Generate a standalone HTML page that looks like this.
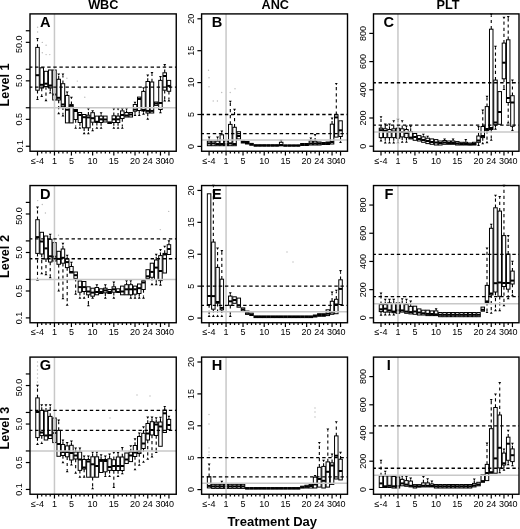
<!DOCTYPE html>
<html><head><meta charset="utf-8"><style>
html,body{margin:0;padding:0;background:#fff;}
body{width:520px;height:529px;overflow:hidden;}
svg{display:block;font-family:"Liberation Sans",sans-serif;will-change:transform;}
</style></head><body>
<svg width="520" height="529" viewBox="0 0 520 529">
<rect width="520" height="529" fill="#fff"/>
<circle cx="37.6" cy="27.2" r="0.7" fill="#bbb"/>
<circle cx="37.6" cy="32" r="0.7" fill="#bbb"/>
<circle cx="42.3" cy="42.4" r="0.7" fill="#bbb"/>
<circle cx="46.1" cy="45.2" r="0.7" fill="#bbb"/>
<circle cx="42.3" cy="52.8" r="0.7" fill="#bbb"/>
<circle cx="46.1" cy="54.6" r="0.7" fill="#bbb"/>
<circle cx="49.8" cy="54.6" r="0.7" fill="#bbb"/>
<circle cx="66.9" cy="78.3" r="0.7" fill="#bbb"/>
<circle cx="77.3" cy="81.1" r="0.7" fill="#bbb"/>
<circle cx="80.1" cy="88.7" r="0.7" fill="#bbb"/>
<circle cx="84.8" cy="97.2" r="0.7" fill="#bbb"/>
<circle cx="88.6" cy="108.5" r="0.7" fill="#bbb"/>
<circle cx="208.5" cy="70.3" r="0.7" fill="#bbb"/>
<circle cx="209" cy="77.7" r="0.7" fill="#bbb"/>
<circle cx="209" cy="86.8" r="0.7" fill="#bbb"/>
<circle cx="213.2" cy="101" r="0.7" fill="#bbb"/>
<circle cx="217.4" cy="101" r="0.7" fill="#bbb"/>
<circle cx="221.7" cy="92.5" r="0.7" fill="#bbb"/>
<circle cx="230.2" cy="92.5" r="0.7" fill="#bbb"/>
<circle cx="235" cy="88.7" r="0.7" fill="#bbb"/>
<circle cx="209" cy="414.5" r="0.7" fill="#bbb"/>
<circle cx="209" cy="424" r="0.7" fill="#bbb"/>
<circle cx="209" cy="448" r="0.7" fill="#bbb"/>
<circle cx="209" cy="452" r="0.7" fill="#bbb"/>
<circle cx="209" cy="455" r="0.7" fill="#bbb"/>
<circle cx="37.7" cy="200.6" r="0.7" fill="#bbb"/>
<circle cx="42.3" cy="204.5" r="0.7" fill="#bbb"/>
<circle cx="45.4" cy="213" r="0.7" fill="#bbb"/>
<circle cx="58.5" cy="235.2" r="0.7" fill="#bbb"/>
<circle cx="168.7" cy="211.4" r="0.7" fill="#bbb"/>
<circle cx="160.3" cy="229.6" r="0.7" fill="#bbb"/>
<circle cx="287" cy="252" r="0.7" fill="#bbb"/>
<circle cx="293" cy="262" r="0.7" fill="#bbb"/>
<circle cx="137" cy="395" r="0.7" fill="#bbb"/>
<circle cx="150" cy="396" r="0.7" fill="#bbb"/>
<circle cx="110" cy="418" r="0.7" fill="#bbb"/>
<circle cx="315" cy="408" r="0.7" fill="#bbb"/>
<circle cx="315" cy="412" r="0.7" fill="#bbb"/>
<circle cx="315" cy="417" r="0.7" fill="#bbb"/>
<circle cx="37.5" cy="362" r="0.7" fill="#bbb"/>
<circle cx="37.5" cy="366" r="0.7" fill="#bbb"/>
<circle cx="37.5" cy="370" r="0.7" fill="#bbb"/>
<circle cx="37.5" cy="374" r="0.7" fill="#bbb"/>
<circle cx="37.5" cy="378" r="0.7" fill="#bbb"/>
<circle cx="37.5" cy="382" r="0.7" fill="#bbb"/>
<text x="103.30" y="9.00" font-size="12.7" font-weight="bold" text-anchor="middle" fill="#000" >WBC</text>
<text x="275.30" y="9.00" font-size="12.7" font-weight="bold" text-anchor="middle" fill="#000" >ANC</text>
<text x="448.00" y="9.00" font-size="12.7" font-weight="bold" text-anchor="middle" fill="#000" >PLT</text>
<line x1="37.50" y1="47.40" x2="37.50" y2="40.10" stroke="#000" stroke-width="1.1" stroke-dasharray="3.2 2.9"/>
<path d="M36.10 37.90h2.8l-1.4 2.4z" fill="#000"/>
<line x1="37.50" y1="90.20" x2="37.50" y2="97.90" stroke="#000" stroke-width="1.1" stroke-dasharray="3.2 2.9"/>
<path d="M36.10 100.10h2.8l-1.4 -2.4z" fill="#000"/>
<rect x="35.75" y="47.40" width="3.50" height="42.80" fill="#fff" stroke="#000" stroke-width="1"/>
<line x1="35.75" y1="75.20" x2="39.25" y2="75.20" stroke="#000" stroke-width="2.0" />
<line x1="41.74" y1="88.00" x2="41.74" y2="94.70" stroke="#000" stroke-width="1.1" stroke-dasharray="3.2 2.9"/>
<path d="M40.34 96.90h2.8l-1.4 -2.4z" fill="#000"/>
<rect x="39.99" y="67.80" width="3.50" height="20.20" fill="#fff" stroke="#000" stroke-width="1"/>
<line x1="39.99" y1="84.80" x2="43.49" y2="84.80" stroke="#000" stroke-width="2.0" />
<line x1="45.98" y1="86.50" x2="45.98" y2="99.00" stroke="#000" stroke-width="1.1" stroke-dasharray="3.2 2.9"/>
<path d="M44.58 101.20h2.8l-1.4 -2.4z" fill="#000"/>
<rect x="44.23" y="71.30" width="3.50" height="15.20" fill="#fff" stroke="#000" stroke-width="1"/>
<line x1="44.23" y1="83.70" x2="47.73" y2="83.70" stroke="#000" stroke-width="2.0" />
<line x1="50.22" y1="88.00" x2="50.22" y2="91.40" stroke="#000" stroke-width="1.1" stroke-dasharray="3.2 2.9"/>
<path d="M48.82 93.60h2.8l-1.4 -2.4z" fill="#000"/>
<rect x="48.47" y="70.00" width="3.50" height="18.00" fill="#fff" stroke="#000" stroke-width="1"/>
<line x1="48.47" y1="85.50" x2="51.97" y2="85.50" stroke="#000" stroke-width="2.0" />
<rect x="52.71" y="70.00" width="3.50" height="30.00" fill="#fff" stroke="#000" stroke-width="1"/>
<line x1="52.71" y1="94.50" x2="56.21" y2="94.50" stroke="#000" stroke-width="2.0" />
<line x1="58.70" y1="79.30" x2="58.70" y2="75.60" stroke="#000" stroke-width="1.1" stroke-dasharray="3.2 2.9"/>
<path d="M57.30 73.40h2.8l-1.4 2.4z" fill="#000"/>
<line x1="58.70" y1="100.00" x2="58.70" y2="112.00" stroke="#000" stroke-width="1.1" stroke-dasharray="3.2 2.9"/>
<path d="M57.30 114.20h2.8l-1.4 -2.4z" fill="#000"/>
<rect x="56.95" y="79.30" width="3.50" height="20.70" fill="#fff" stroke="#000" stroke-width="1"/>
<line x1="56.95" y1="97.80" x2="60.45" y2="97.80" stroke="#000" stroke-width="2.0" />
<line x1="62.94" y1="83.70" x2="62.94" y2="75.60" stroke="#000" stroke-width="1.1" stroke-dasharray="3.2 2.9"/>
<path d="M61.54 73.40h2.8l-1.4 2.4z" fill="#000"/>
<line x1="62.94" y1="106.70" x2="62.94" y2="114.20" stroke="#000" stroke-width="1.1" stroke-dasharray="3.2 2.9"/>
<path d="M61.54 116.40h2.8l-1.4 -2.4z" fill="#000"/>
<rect x="61.19" y="83.70" width="3.50" height="23.00" fill="#fff" stroke="#000" stroke-width="1"/>
<line x1="61.19" y1="104.50" x2="64.69" y2="104.50" stroke="#000" stroke-width="2.0" />
<line x1="67.18" y1="95.50" x2="67.18" y2="93.60" stroke="#000" stroke-width="1.1" stroke-dasharray="3.2 2.9"/>
<path d="M65.78 91.40h2.8l-1.4 2.4z" fill="#000"/>
<rect x="65.43" y="95.50" width="3.50" height="27.40" fill="#fff" stroke="#000" stroke-width="1"/>
<line x1="65.43" y1="109.70" x2="68.93" y2="109.70" stroke="#000" stroke-width="2.0" />
<line x1="71.42" y1="104.60" x2="71.42" y2="99.00" stroke="#000" stroke-width="1.1" stroke-dasharray="3.2 2.9"/>
<path d="M70.02 96.80h2.8l-1.4 2.4z" fill="#000"/>
<rect x="69.67" y="104.60" width="3.50" height="18.30" fill="#fff" stroke="#000" stroke-width="1"/>
<line x1="69.67" y1="105.80" x2="73.17" y2="105.80" stroke="#000" stroke-width="2.0" />
<line x1="75.66" y1="119.50" x2="75.66" y2="126.60" stroke="#000" stroke-width="1.1" stroke-dasharray="3.2 2.9"/>
<path d="M74.26 128.80h2.8l-1.4 -2.4z" fill="#000"/>
<rect x="73.91" y="109.50" width="3.50" height="10.00" fill="#fff" stroke="#000" stroke-width="1"/>
<line x1="73.91" y1="111.00" x2="77.41" y2="111.00" stroke="#000" stroke-width="2.0" />
<line x1="79.90" y1="122.50" x2="79.90" y2="126.60" stroke="#000" stroke-width="1.1" stroke-dasharray="3.2 2.9"/>
<path d="M78.50 128.80h2.8l-1.4 -2.4z" fill="#000"/>
<rect x="78.15" y="112.50" width="3.50" height="10.00" fill="#fff" stroke="#000" stroke-width="1"/>
<line x1="78.15" y1="115.00" x2="81.65" y2="115.00" stroke="#000" stroke-width="2.0" />
<line x1="84.14" y1="127.80" x2="84.14" y2="132.00" stroke="#000" stroke-width="1.1" stroke-dasharray="3.2 2.9"/>
<path d="M82.74 134.20h2.8l-1.4 -2.4z" fill="#000"/>
<rect x="82.39" y="114.50" width="3.50" height="13.30" fill="#fff" stroke="#000" stroke-width="1"/>
<line x1="82.39" y1="117.20" x2="85.89" y2="117.20" stroke="#000" stroke-width="2.0" />
<line x1="88.38" y1="115.20" x2="88.38" y2="110.40" stroke="#000" stroke-width="1.1" stroke-dasharray="3.2 2.9"/>
<path d="M86.98 108.20h2.8l-1.4 2.4z" fill="#000"/>
<line x1="88.38" y1="127.80" x2="88.38" y2="132.00" stroke="#000" stroke-width="1.1" stroke-dasharray="3.2 2.9"/>
<path d="M86.98 134.20h2.8l-1.4 -2.4z" fill="#000"/>
<rect x="86.63" y="115.20" width="3.50" height="12.60" fill="#fff" stroke="#000" stroke-width="1"/>
<line x1="86.63" y1="117.40" x2="90.13" y2="117.40" stroke="#000" stroke-width="2.0" />
<line x1="92.62" y1="112.70" x2="92.62" y2="112.40" stroke="#000" stroke-width="1.1" stroke-dasharray="3.2 2.9"/>
<path d="M91.22 110.20h2.8l-1.4 2.4z" fill="#000"/>
<line x1="92.62" y1="122.20" x2="92.62" y2="129.00" stroke="#000" stroke-width="1.1" stroke-dasharray="3.2 2.9"/>
<path d="M91.22 131.20h2.8l-1.4 -2.4z" fill="#000"/>
<rect x="90.87" y="112.70" width="3.50" height="9.50" fill="#fff" stroke="#000" stroke-width="1"/>
<line x1="90.87" y1="118.20" x2="94.37" y2="118.20" stroke="#000" stroke-width="2.0" />
<line x1="96.86" y1="122.30" x2="96.86" y2="126.60" stroke="#000" stroke-width="1.1" stroke-dasharray="3.2 2.9"/>
<path d="M95.46 128.80h2.8l-1.4 -2.4z" fill="#000"/>
<rect x="95.11" y="116.10" width="3.50" height="6.20" fill="#fff" stroke="#000" stroke-width="1"/>
<line x1="95.11" y1="121.80" x2="98.61" y2="121.80" stroke="#000" stroke-width="2.0" />
<line x1="101.10" y1="116.10" x2="101.10" y2="114.40" stroke="#000" stroke-width="1.1" stroke-dasharray="3.2 2.9"/>
<path d="M99.70 112.20h2.8l-1.4 2.4z" fill="#000"/>
<line x1="101.10" y1="122.50" x2="101.10" y2="126.60" stroke="#000" stroke-width="1.1" stroke-dasharray="3.2 2.9"/>
<path d="M99.70 128.80h2.8l-1.4 -2.4z" fill="#000"/>
<rect x="99.35" y="116.10" width="3.50" height="6.40" fill="#fff" stroke="#000" stroke-width="1"/>
<line x1="99.35" y1="119.30" x2="102.85" y2="119.30" stroke="#000" stroke-width="2.0" />
<rect x="103.59" y="116.10" width="3.50" height="5.90" fill="#fff" stroke="#000" stroke-width="1"/>
<line x1="103.59" y1="119.50" x2="107.09" y2="119.50" stroke="#000" stroke-width="2.0" />
<rect x="107.83" y="122.00" width="3.50" height="1.50" fill="#fff" stroke="#000" stroke-width="1"/>
<line x1="107.83" y1="122.80" x2="111.33" y2="122.80" stroke="#000" stroke-width="2.0" />
<line x1="113.82" y1="115.80" x2="113.82" y2="110.40" stroke="#000" stroke-width="1.1" stroke-dasharray="3.2 2.9"/>
<path d="M112.42 108.20h2.8l-1.4 2.4z" fill="#000"/>
<line x1="113.82" y1="122.50" x2="113.82" y2="126.60" stroke="#000" stroke-width="1.1" stroke-dasharray="3.2 2.9"/>
<path d="M112.42 128.80h2.8l-1.4 -2.4z" fill="#000"/>
<rect x="112.07" y="115.80" width="3.50" height="6.70" fill="#fff" stroke="#000" stroke-width="1"/>
<line x1="112.07" y1="119.30" x2="115.57" y2="119.30" stroke="#000" stroke-width="2.0" />
<line x1="118.06" y1="116.10" x2="118.06" y2="110.40" stroke="#000" stroke-width="1.1" stroke-dasharray="3.2 2.9"/>
<path d="M116.66 108.20h2.8l-1.4 2.4z" fill="#000"/>
<line x1="118.06" y1="122.50" x2="118.06" y2="126.60" stroke="#000" stroke-width="1.1" stroke-dasharray="3.2 2.9"/>
<path d="M116.66 128.80h2.8l-1.4 -2.4z" fill="#000"/>
<rect x="116.31" y="116.10" width="3.50" height="6.40" fill="#fff" stroke="#000" stroke-width="1"/>
<line x1="116.31" y1="119.30" x2="119.81" y2="119.30" stroke="#000" stroke-width="2.0" />
<line x1="122.30" y1="110.90" x2="122.30" y2="110.40" stroke="#000" stroke-width="1.1" stroke-dasharray="3.2 2.9"/>
<path d="M120.90 108.20h2.8l-1.4 2.4z" fill="#000"/>
<line x1="122.30" y1="118.50" x2="122.30" y2="126.60" stroke="#000" stroke-width="1.1" stroke-dasharray="3.2 2.9"/>
<path d="M120.90 128.80h2.8l-1.4 -2.4z" fill="#000"/>
<rect x="120.55" y="110.90" width="3.50" height="7.60" fill="#fff" stroke="#000" stroke-width="1"/>
<line x1="120.55" y1="115.00" x2="124.05" y2="115.00" stroke="#000" stroke-width="2.0" />
<line x1="126.54" y1="112.50" x2="126.54" y2="110.40" stroke="#000" stroke-width="1.1" stroke-dasharray="3.2 2.9"/>
<path d="M125.14 108.20h2.8l-1.4 2.4z" fill="#000"/>
<rect x="124.79" y="112.50" width="3.50" height="4.50" fill="#fff" stroke="#000" stroke-width="1"/>
<line x1="124.79" y1="115.50" x2="128.29" y2="115.50" stroke="#000" stroke-width="2.0" />
<rect x="129.03" y="112.50" width="3.50" height="4.50" fill="#fff" stroke="#000" stroke-width="1"/>
<line x1="129.03" y1="114.50" x2="132.53" y2="114.50" stroke="#000" stroke-width="2.0" />
<line x1="135.02" y1="104.50" x2="135.02" y2="104.00" stroke="#000" stroke-width="1.1" stroke-dasharray="3.2 2.9"/>
<path d="M133.62 101.80h2.8l-1.4 2.4z" fill="#000"/>
<line x1="135.02" y1="111.20" x2="135.02" y2="113.80" stroke="#000" stroke-width="1.1" stroke-dasharray="3.2 2.9"/>
<path d="M133.62 116.00h2.8l-1.4 -2.4z" fill="#000"/>
<rect x="133.27" y="104.50" width="3.50" height="6.70" fill="#fff" stroke="#000" stroke-width="1"/>
<line x1="133.27" y1="109.50" x2="136.77" y2="109.50" stroke="#000" stroke-width="2.0" />
<line x1="139.26" y1="110.50" x2="139.26" y2="113.80" stroke="#000" stroke-width="1.1" stroke-dasharray="3.2 2.9"/>
<path d="M137.86 116.00h2.8l-1.4 -2.4z" fill="#000"/>
<rect x="137.51" y="97.10" width="3.50" height="13.40" fill="#fff" stroke="#000" stroke-width="1"/>
<line x1="137.51" y1="99.00" x2="141.01" y2="99.00" stroke="#000" stroke-width="2.0" />
<line x1="143.50" y1="91.40" x2="143.50" y2="89.40" stroke="#000" stroke-width="1.1" stroke-dasharray="3.2 2.9"/>
<path d="M142.10 87.20h2.8l-1.4 2.4z" fill="#000"/>
<line x1="143.50" y1="111.00" x2="143.50" y2="112.50" stroke="#000" stroke-width="1.1" stroke-dasharray="3.2 2.9"/>
<path d="M142.10 114.70h2.8l-1.4 -2.4z" fill="#000"/>
<rect x="141.75" y="91.40" width="3.50" height="19.60" fill="#fff" stroke="#000" stroke-width="1"/>
<line x1="141.75" y1="110.00" x2="145.25" y2="110.00" stroke="#000" stroke-width="2.0" />
<line x1="147.74" y1="81.50" x2="147.74" y2="76.70" stroke="#000" stroke-width="1.1" stroke-dasharray="3.2 2.9"/>
<path d="M146.34 74.50h2.8l-1.4 2.4z" fill="#000"/>
<line x1="147.74" y1="113.00" x2="147.74" y2="117.50" stroke="#000" stroke-width="1.1" stroke-dasharray="3.2 2.9"/>
<path d="M146.34 119.70h2.8l-1.4 -2.4z" fill="#000"/>
<rect x="145.99" y="81.50" width="3.50" height="31.50" fill="#fff" stroke="#000" stroke-width="1"/>
<line x1="145.99" y1="110.90" x2="149.49" y2="110.90" stroke="#000" stroke-width="2.0" />
<line x1="151.98" y1="82.00" x2="151.98" y2="74.30" stroke="#000" stroke-width="1.1" stroke-dasharray="3.2 2.9"/>
<path d="M150.58 72.10h2.8l-1.4 2.4z" fill="#000"/>
<rect x="150.23" y="82.00" width="3.50" height="31.00" fill="#fff" stroke="#000" stroke-width="1"/>
<line x1="150.23" y1="110.90" x2="153.73" y2="110.90" stroke="#000" stroke-width="2.0" />
<rect x="154.47" y="102.00" width="3.50" height="3.40" fill="#fff" stroke="#000" stroke-width="1"/>
<line x1="154.47" y1="103.50" x2="157.97" y2="103.50" stroke="#000" stroke-width="2.0" />
<line x1="160.46" y1="80.40" x2="160.46" y2="78.20" stroke="#000" stroke-width="1.1" stroke-dasharray="3.2 2.9"/>
<path d="M159.06 76.00h2.8l-1.4 2.4z" fill="#000"/>
<line x1="160.46" y1="109.50" x2="160.46" y2="111.00" stroke="#000" stroke-width="1.1" stroke-dasharray="3.2 2.9"/>
<path d="M159.06 113.20h2.8l-1.4 -2.4z" fill="#000"/>
<rect x="158.71" y="80.40" width="3.50" height="29.10" fill="#fff" stroke="#000" stroke-width="1"/>
<line x1="158.71" y1="103.00" x2="162.21" y2="103.00" stroke="#000" stroke-width="2.0" />
<line x1="164.70" y1="72.80" x2="164.70" y2="66.20" stroke="#000" stroke-width="1.1" stroke-dasharray="3.2 2.9"/>
<path d="M163.30 64.00h2.8l-1.4 2.4z" fill="#000"/>
<line x1="164.70" y1="90.20" x2="164.70" y2="99.30" stroke="#000" stroke-width="1.1" stroke-dasharray="3.2 2.9"/>
<path d="M163.30 101.50h2.8l-1.4 -2.4z" fill="#000"/>
<rect x="162.95" y="72.80" width="3.50" height="17.40" fill="#fff" stroke="#000" stroke-width="1"/>
<line x1="162.95" y1="76.00" x2="166.45" y2="76.00" stroke="#000" stroke-width="2.0" />
<line x1="168.94" y1="91.30" x2="168.94" y2="99.30" stroke="#000" stroke-width="1.1" stroke-dasharray="3.2 2.9"/>
<path d="M167.54 101.50h2.8l-1.4 -2.4z" fill="#000"/>
<rect x="167.19" y="80.40" width="3.50" height="10.90" fill="#fff" stroke="#000" stroke-width="1"/>
<line x1="167.19" y1="85.90" x2="170.69" y2="85.90" stroke="#000" stroke-width="2.0" />
<line x1="30.00" y1="107.75" x2="176.25" y2="107.75" stroke="#c8c8c8" stroke-width="1.5" />
<line x1="54.46" y1="13.90" x2="54.46" y2="151.25" stroke="#c8c8c8" stroke-width="1.5" />
<line x1="30.00" y1="67.21" x2="176.25" y2="67.21" stroke="#000" stroke-width="1.3" stroke-dasharray="3.4 2.68" stroke-dashoffset="1.0"/>
<line x1="30.00" y1="87.09" x2="176.25" y2="87.09" stroke="#000" stroke-width="1.3" stroke-dasharray="3.4 2.68" stroke-dashoffset="1.0"/>
<rect x="30.00" y="13.90" width="146.25" height="137.35" fill="none" stroke="#000" stroke-width="1.4"/>
<text x="45.35" y="27.00" font-size="14.6" font-weight="bold" text-anchor="middle" fill="#000" >A</text>
<line x1="37.50" y1="151.25" x2="37.50" y2="155.55" stroke="#000" stroke-width="1.2" />
<text x="37.50" y="163.85" font-size="9.0" font-weight="normal" text-anchor="middle" fill="#000" >≤-4</text>
<line x1="41.74" y1="151.25" x2="41.74" y2="153.55" stroke="#000" stroke-width="1.2" />
<line x1="45.98" y1="151.25" x2="45.98" y2="153.55" stroke="#000" stroke-width="1.2" />
<line x1="50.22" y1="151.25" x2="50.22" y2="153.55" stroke="#000" stroke-width="1.2" />
<line x1="54.46" y1="151.25" x2="54.46" y2="155.55" stroke="#000" stroke-width="1.2" />
<text x="54.46" y="163.85" font-size="9.0" font-weight="normal" text-anchor="middle" fill="#000" >1</text>
<line x1="58.70" y1="151.25" x2="58.70" y2="153.55" stroke="#000" stroke-width="1.2" />
<line x1="62.94" y1="151.25" x2="62.94" y2="153.55" stroke="#000" stroke-width="1.2" />
<line x1="67.18" y1="151.25" x2="67.18" y2="153.55" stroke="#000" stroke-width="1.2" />
<line x1="71.42" y1="151.25" x2="71.42" y2="155.55" stroke="#000" stroke-width="1.2" />
<text x="71.42" y="163.85" font-size="9.0" font-weight="normal" text-anchor="middle" fill="#000" >5</text>
<line x1="75.66" y1="151.25" x2="75.66" y2="153.55" stroke="#000" stroke-width="1.2" />
<line x1="79.90" y1="151.25" x2="79.90" y2="153.55" stroke="#000" stroke-width="1.2" />
<line x1="84.14" y1="151.25" x2="84.14" y2="153.55" stroke="#000" stroke-width="1.2" />
<line x1="88.38" y1="151.25" x2="88.38" y2="153.55" stroke="#000" stroke-width="1.2" />
<line x1="92.62" y1="151.25" x2="92.62" y2="155.55" stroke="#000" stroke-width="1.2" />
<text x="92.62" y="163.85" font-size="9.0" font-weight="normal" text-anchor="middle" fill="#000" >10</text>
<line x1="96.86" y1="151.25" x2="96.86" y2="153.55" stroke="#000" stroke-width="1.2" />
<line x1="101.10" y1="151.25" x2="101.10" y2="153.55" stroke="#000" stroke-width="1.2" />
<line x1="105.34" y1="151.25" x2="105.34" y2="153.55" stroke="#000" stroke-width="1.2" />
<line x1="109.58" y1="151.25" x2="109.58" y2="153.55" stroke="#000" stroke-width="1.2" />
<line x1="113.82" y1="151.25" x2="113.82" y2="155.55" stroke="#000" stroke-width="1.2" />
<text x="113.82" y="163.85" font-size="9.0" font-weight="normal" text-anchor="middle" fill="#000" >15</text>
<line x1="118.06" y1="151.25" x2="118.06" y2="153.55" stroke="#000" stroke-width="1.2" />
<line x1="122.30" y1="151.25" x2="122.30" y2="153.55" stroke="#000" stroke-width="1.2" />
<line x1="126.54" y1="151.25" x2="126.54" y2="153.55" stroke="#000" stroke-width="1.2" />
<line x1="130.78" y1="151.25" x2="130.78" y2="153.55" stroke="#000" stroke-width="1.2" />
<line x1="135.02" y1="151.25" x2="135.02" y2="155.55" stroke="#000" stroke-width="1.2" />
<text x="135.02" y="163.85" font-size="9.0" font-weight="normal" text-anchor="middle" fill="#000" >20</text>
<line x1="139.26" y1="151.25" x2="139.26" y2="153.55" stroke="#000" stroke-width="1.2" />
<line x1="143.50" y1="151.25" x2="143.50" y2="153.55" stroke="#000" stroke-width="1.2" />
<line x1="147.74" y1="151.25" x2="147.74" y2="155.55" stroke="#000" stroke-width="1.2" />
<text x="147.74" y="163.85" font-size="9.0" font-weight="normal" text-anchor="middle" fill="#000" >24</text>
<line x1="151.98" y1="151.25" x2="151.98" y2="153.55" stroke="#000" stroke-width="1.2" />
<line x1="156.22" y1="151.25" x2="156.22" y2="153.55" stroke="#000" stroke-width="1.2" />
<line x1="160.46" y1="151.25" x2="160.46" y2="155.55" stroke="#000" stroke-width="1.2" />
<text x="160.46" y="163.85" font-size="9.0" font-weight="normal" text-anchor="middle" fill="#000" >30</text>
<line x1="164.70" y1="151.25" x2="164.70" y2="153.55" stroke="#000" stroke-width="1.2" />
<line x1="168.94" y1="151.25" x2="168.94" y2="155.55" stroke="#000" stroke-width="1.2" />
<text x="168.94" y="163.85" font-size="9.0" font-weight="normal" text-anchor="middle" fill="#000" >40</text>
<line x1="25.80" y1="146.25" x2="30.00" y2="146.25" stroke="#000" stroke-width="1.2" />
<text x="22.50" y="146.25" font-size="9.0" font-weight="normal" text-anchor="middle" fill="#000" transform="rotate(-90 22.50 146.25)" >0.1</text>
<line x1="25.80" y1="119.34" x2="30.00" y2="119.34" stroke="#000" stroke-width="1.2" />
<text x="22.50" y="119.34" font-size="9.0" font-weight="normal" text-anchor="middle" fill="#000" transform="rotate(-90 22.50 119.34)" >0.5</text>
<line x1="25.80" y1="107.75" x2="30.00" y2="107.75" stroke="#000" stroke-width="1.2" />
<line x1="25.80" y1="80.84" x2="30.00" y2="80.84" stroke="#000" stroke-width="1.2" />
<text x="22.50" y="80.84" font-size="9.0" font-weight="normal" text-anchor="middle" fill="#000" transform="rotate(-90 22.50 80.84)" >5.0</text>
<line x1="25.80" y1="69.25" x2="30.00" y2="69.25" stroke="#000" stroke-width="1.2" />
<line x1="25.80" y1="42.34" x2="30.00" y2="42.34" stroke="#000" stroke-width="1.2" />
<text x="22.50" y="44.34" font-size="9.0" font-weight="normal" text-anchor="middle" fill="#000" transform="rotate(-90 22.50 44.34)" >50.0</text>
<line x1="25.80" y1="30.75" x2="30.00" y2="30.75" stroke="#000" stroke-width="1.2" />
<line x1="209.10" y1="141.10" x2="209.10" y2="138.70" stroke="#000" stroke-width="1.1" stroke-dasharray="3.2 2.9"/>
<path d="M207.70 136.50h2.8l-1.4 2.4z" fill="#000"/>
<rect x="207.35" y="141.10" width="3.50" height="4.60" fill="#fff" stroke="#000" stroke-width="1"/>
<line x1="207.35" y1="143.40" x2="210.85" y2="143.40" stroke="#000" stroke-width="2.0" />
<rect x="211.59" y="141.10" width="3.50" height="4.60" fill="#fff" stroke="#000" stroke-width="1"/>
<line x1="211.59" y1="143.40" x2="215.09" y2="143.40" stroke="#000" stroke-width="2.0" />
<line x1="217.58" y1="141.10" x2="217.58" y2="138.70" stroke="#000" stroke-width="1.1" stroke-dasharray="3.2 2.9"/>
<path d="M216.18 136.50h2.8l-1.4 2.4z" fill="#000"/>
<rect x="215.83" y="141.10" width="3.50" height="4.60" fill="#fff" stroke="#000" stroke-width="1"/>
<line x1="215.83" y1="144.00" x2="219.33" y2="144.00" stroke="#000" stroke-width="2.0" />
<line x1="221.82" y1="134.80" x2="221.82" y2="132.70" stroke="#000" stroke-width="1.1" stroke-dasharray="3.2 2.9"/>
<path d="M220.42 130.50h2.8l-1.4 2.4z" fill="#000"/>
<rect x="220.07" y="134.80" width="3.50" height="10.90" fill="#fff" stroke="#000" stroke-width="1"/>
<line x1="220.07" y1="144.00" x2="223.57" y2="144.00" stroke="#000" stroke-width="2.0" />
<rect x="224.31" y="141.00" width="3.50" height="4.70" fill="#fff" stroke="#000" stroke-width="1"/>
<line x1="224.31" y1="144.00" x2="227.81" y2="144.00" stroke="#000" stroke-width="2.0" />
<line x1="230.30" y1="124.40" x2="230.30" y2="102.90" stroke="#000" stroke-width="1.1" stroke-dasharray="3.2 2.9"/>
<path d="M228.90 100.70h2.8l-1.4 2.4z" fill="#000"/>
<rect x="228.55" y="124.40" width="3.50" height="21.30" fill="#fff" stroke="#000" stroke-width="1"/>
<line x1="228.55" y1="143.40" x2="232.05" y2="143.40" stroke="#000" stroke-width="2.0" />
<line x1="234.54" y1="127.30" x2="234.54" y2="111.00" stroke="#000" stroke-width="1.1" stroke-dasharray="3.2 2.9"/>
<path d="M233.14 108.80h2.8l-1.4 2.4z" fill="#000"/>
<rect x="232.79" y="127.30" width="3.50" height="18.40" fill="#fff" stroke="#000" stroke-width="1"/>
<line x1="232.79" y1="144.00" x2="236.29" y2="144.00" stroke="#000" stroke-width="2.0" />
<rect x="237.03" y="131.70" width="3.50" height="7.30" fill="#fff" stroke="#000" stroke-width="1"/>
<line x1="237.03" y1="136.00" x2="240.53" y2="136.00" stroke="#000" stroke-width="2.0" />
<rect x="241.27" y="141.00" width="3.50" height="2.00" fill="#fff" stroke="#000" stroke-width="1"/>
<line x1="241.27" y1="142.00" x2="244.77" y2="142.00" stroke="#000" stroke-width="2.0" />
<rect x="245.51" y="141.50" width="3.50" height="2.50" fill="#fff" stroke="#000" stroke-width="1"/>
<line x1="245.51" y1="143.00" x2="249.01" y2="143.00" stroke="#000" stroke-width="2.0" />
<rect x="249.75" y="143.40" width="3.50" height="1.80" fill="#fff" stroke="#000" stroke-width="1"/>
<line x1="249.75" y1="144.30" x2="253.25" y2="144.30" stroke="#000" stroke-width="2.0" />
<rect x="253.99" y="144.80" width="3.50" height="1.20" fill="#fff" stroke="#000" stroke-width="1"/>
<line x1="253.99" y1="145.50" x2="257.49" y2="145.50" stroke="#000" stroke-width="2.0" />
<rect x="258.23" y="144.80" width="3.50" height="1.20" fill="#fff" stroke="#000" stroke-width="1"/>
<line x1="258.23" y1="145.50" x2="261.73" y2="145.50" stroke="#000" stroke-width="2.0" />
<rect x="262.47" y="144.80" width="3.50" height="1.20" fill="#fff" stroke="#000" stroke-width="1"/>
<line x1="262.47" y1="145.50" x2="265.97" y2="145.50" stroke="#000" stroke-width="2.0" />
<rect x="266.71" y="144.80" width="3.50" height="1.20" fill="#fff" stroke="#000" stroke-width="1"/>
<line x1="266.71" y1="145.50" x2="270.21" y2="145.50" stroke="#000" stroke-width="2.0" />
<rect x="270.95" y="144.80" width="3.50" height="1.20" fill="#fff" stroke="#000" stroke-width="1"/>
<line x1="270.95" y1="145.50" x2="274.45" y2="145.50" stroke="#000" stroke-width="2.0" />
<rect x="275.19" y="144.80" width="3.50" height="1.20" fill="#fff" stroke="#000" stroke-width="1"/>
<line x1="275.19" y1="145.50" x2="278.69" y2="145.50" stroke="#000" stroke-width="2.0" />
<line x1="281.18" y1="142.30" x2="281.18" y2="142.00" stroke="#000" stroke-width="1.1" stroke-dasharray="3.2 2.9"/>
<path d="M279.78 139.80h2.8l-1.4 2.4z" fill="#000"/>
<rect x="279.43" y="142.30" width="3.50" height="3.50" fill="#fff" stroke="#000" stroke-width="1"/>
<line x1="279.43" y1="145.00" x2="282.93" y2="145.00" stroke="#000" stroke-width="2.0" />
<rect x="283.67" y="145.00" width="3.50" height="1.00" fill="#fff" stroke="#000" stroke-width="1"/>
<line x1="283.67" y1="145.60" x2="287.17" y2="145.60" stroke="#000" stroke-width="2.0" />
<rect x="287.91" y="145.00" width="3.50" height="1.00" fill="#fff" stroke="#000" stroke-width="1"/>
<line x1="287.91" y1="145.60" x2="291.41" y2="145.60" stroke="#000" stroke-width="2.0" />
<rect x="292.15" y="145.00" width="3.50" height="1.00" fill="#fff" stroke="#000" stroke-width="1"/>
<line x1="292.15" y1="145.60" x2="295.65" y2="145.60" stroke="#000" stroke-width="2.0" />
<rect x="296.39" y="145.00" width="3.50" height="1.00" fill="#fff" stroke="#000" stroke-width="1"/>
<line x1="296.39" y1="145.60" x2="299.89" y2="145.60" stroke="#000" stroke-width="2.0" />
<rect x="300.63" y="143.50" width="3.50" height="2.00" fill="#fff" stroke="#000" stroke-width="1"/>
<line x1="300.63" y1="144.50" x2="304.13" y2="144.50" stroke="#000" stroke-width="2.0" />
<rect x="304.87" y="143.50" width="3.50" height="2.00" fill="#fff" stroke="#000" stroke-width="1"/>
<line x1="304.87" y1="144.50" x2="308.37" y2="144.50" stroke="#000" stroke-width="2.0" />
<line x1="310.86" y1="141.00" x2="310.86" y2="139.60" stroke="#000" stroke-width="1.1" stroke-dasharray="3.2 2.9"/>
<path d="M309.46 137.40h2.8l-1.4 2.4z" fill="#000"/>
<rect x="309.11" y="141.00" width="3.50" height="4.00" fill="#fff" stroke="#000" stroke-width="1"/>
<line x1="309.11" y1="143.50" x2="312.61" y2="143.50" stroke="#000" stroke-width="2.0" />
<line x1="315.10" y1="141.20" x2="315.10" y2="136.20" stroke="#000" stroke-width="1.1" stroke-dasharray="3.2 2.9"/>
<path d="M313.70 134.00h2.8l-1.4 2.4z" fill="#000"/>
<rect x="313.35" y="141.20" width="3.50" height="3.80" fill="#fff" stroke="#000" stroke-width="1"/>
<line x1="313.35" y1="143.50" x2="316.85" y2="143.50" stroke="#000" stroke-width="2.0" />
<rect x="317.59" y="142.00" width="3.50" height="3.00" fill="#fff" stroke="#000" stroke-width="1"/>
<line x1="317.59" y1="143.50" x2="321.09" y2="143.50" stroke="#000" stroke-width="2.0" />
<rect x="321.83" y="142.50" width="3.50" height="2.00" fill="#fff" stroke="#000" stroke-width="1"/>
<line x1="321.83" y1="143.50" x2="325.33" y2="143.50" stroke="#000" stroke-width="2.0" />
<rect x="326.07" y="142.00" width="3.50" height="2.50" fill="#fff" stroke="#000" stroke-width="1"/>
<line x1="326.07" y1="143.00" x2="329.57" y2="143.00" stroke="#000" stroke-width="2.0" />
<line x1="332.06" y1="124.20" x2="332.06" y2="119.80" stroke="#000" stroke-width="1.1" stroke-dasharray="3.2 2.9"/>
<path d="M330.66 117.60h2.8l-1.4 2.4z" fill="#000"/>
<rect x="330.31" y="124.20" width="3.50" height="19.80" fill="#fff" stroke="#000" stroke-width="1"/>
<line x1="330.31" y1="142.00" x2="333.81" y2="142.00" stroke="#000" stroke-width="2.0" />
<line x1="336.30" y1="114.70" x2="336.30" y2="85.10" stroke="#000" stroke-width="1.1" stroke-dasharray="3.2 2.9"/>
<path d="M334.90 82.90h2.8l-1.4 2.4z" fill="#000"/>
<rect x="334.55" y="114.70" width="3.50" height="22.40" fill="#fff" stroke="#000" stroke-width="1"/>
<line x1="334.55" y1="117.40" x2="338.05" y2="117.40" stroke="#000" stroke-width="2.0" />
<line x1="340.54" y1="136.50" x2="340.54" y2="140.90" stroke="#000" stroke-width="1.1" stroke-dasharray="3.2 2.9"/>
<path d="M339.14 143.10h2.8l-1.4 -2.4z" fill="#000"/>
<rect x="338.79" y="120.80" width="3.50" height="15.70" fill="#fff" stroke="#000" stroke-width="1"/>
<line x1="338.79" y1="130.30" x2="342.29" y2="130.30" stroke="#000" stroke-width="2.0" />
<line x1="201.60" y1="140.02" x2="347.50" y2="140.02" stroke="#c8c8c8" stroke-width="1.5" />
<line x1="226.06" y1="13.90" x2="226.06" y2="151.25" stroke="#c8c8c8" stroke-width="1.5" />
<line x1="201.60" y1="114.50" x2="347.50" y2="114.50" stroke="#000" stroke-width="1.3" stroke-dasharray="3.4 2.68" stroke-dashoffset="1.0"/>
<line x1="201.60" y1="133.64" x2="347.50" y2="133.64" stroke="#000" stroke-width="1.3" stroke-dasharray="3.4 2.68" stroke-dashoffset="1.0"/>
<rect x="201.60" y="13.90" width="145.90" height="137.35" fill="none" stroke="#000" stroke-width="1.4"/>
<text x="216.95" y="27.00" font-size="14.6" font-weight="bold" text-anchor="middle" fill="#000" >B</text>
<line x1="209.10" y1="151.25" x2="209.10" y2="155.55" stroke="#000" stroke-width="1.2" />
<text x="209.10" y="163.85" font-size="9.0" font-weight="normal" text-anchor="middle" fill="#000" >≤-4</text>
<line x1="213.34" y1="151.25" x2="213.34" y2="153.55" stroke="#000" stroke-width="1.2" />
<line x1="217.58" y1="151.25" x2="217.58" y2="153.55" stroke="#000" stroke-width="1.2" />
<line x1="221.82" y1="151.25" x2="221.82" y2="153.55" stroke="#000" stroke-width="1.2" />
<line x1="226.06" y1="151.25" x2="226.06" y2="155.55" stroke="#000" stroke-width="1.2" />
<text x="226.06" y="163.85" font-size="9.0" font-weight="normal" text-anchor="middle" fill="#000" >1</text>
<line x1="230.30" y1="151.25" x2="230.30" y2="153.55" stroke="#000" stroke-width="1.2" />
<line x1="234.54" y1="151.25" x2="234.54" y2="153.55" stroke="#000" stroke-width="1.2" />
<line x1="238.78" y1="151.25" x2="238.78" y2="153.55" stroke="#000" stroke-width="1.2" />
<line x1="243.02" y1="151.25" x2="243.02" y2="155.55" stroke="#000" stroke-width="1.2" />
<text x="243.02" y="163.85" font-size="9.0" font-weight="normal" text-anchor="middle" fill="#000" >5</text>
<line x1="247.26" y1="151.25" x2="247.26" y2="153.55" stroke="#000" stroke-width="1.2" />
<line x1="251.50" y1="151.25" x2="251.50" y2="153.55" stroke="#000" stroke-width="1.2" />
<line x1="255.74" y1="151.25" x2="255.74" y2="153.55" stroke="#000" stroke-width="1.2" />
<line x1="259.98" y1="151.25" x2="259.98" y2="153.55" stroke="#000" stroke-width="1.2" />
<line x1="264.22" y1="151.25" x2="264.22" y2="155.55" stroke="#000" stroke-width="1.2" />
<text x="264.22" y="163.85" font-size="9.0" font-weight="normal" text-anchor="middle" fill="#000" >10</text>
<line x1="268.46" y1="151.25" x2="268.46" y2="153.55" stroke="#000" stroke-width="1.2" />
<line x1="272.70" y1="151.25" x2="272.70" y2="153.55" stroke="#000" stroke-width="1.2" />
<line x1="276.94" y1="151.25" x2="276.94" y2="153.55" stroke="#000" stroke-width="1.2" />
<line x1="281.18" y1="151.25" x2="281.18" y2="153.55" stroke="#000" stroke-width="1.2" />
<line x1="285.42" y1="151.25" x2="285.42" y2="155.55" stroke="#000" stroke-width="1.2" />
<text x="285.42" y="163.85" font-size="9.0" font-weight="normal" text-anchor="middle" fill="#000" >15</text>
<line x1="289.66" y1="151.25" x2="289.66" y2="153.55" stroke="#000" stroke-width="1.2" />
<line x1="293.90" y1="151.25" x2="293.90" y2="153.55" stroke="#000" stroke-width="1.2" />
<line x1="298.14" y1="151.25" x2="298.14" y2="153.55" stroke="#000" stroke-width="1.2" />
<line x1="302.38" y1="151.25" x2="302.38" y2="153.55" stroke="#000" stroke-width="1.2" />
<line x1="306.62" y1="151.25" x2="306.62" y2="155.55" stroke="#000" stroke-width="1.2" />
<text x="306.62" y="163.85" font-size="9.0" font-weight="normal" text-anchor="middle" fill="#000" >20</text>
<line x1="310.86" y1="151.25" x2="310.86" y2="153.55" stroke="#000" stroke-width="1.2" />
<line x1="315.10" y1="151.25" x2="315.10" y2="153.55" stroke="#000" stroke-width="1.2" />
<line x1="319.34" y1="151.25" x2="319.34" y2="155.55" stroke="#000" stroke-width="1.2" />
<text x="319.34" y="163.85" font-size="9.0" font-weight="normal" text-anchor="middle" fill="#000" >24</text>
<line x1="323.58" y1="151.25" x2="323.58" y2="153.55" stroke="#000" stroke-width="1.2" />
<line x1="327.82" y1="151.25" x2="327.82" y2="153.55" stroke="#000" stroke-width="1.2" />
<line x1="332.06" y1="151.25" x2="332.06" y2="155.55" stroke="#000" stroke-width="1.2" />
<text x="332.06" y="163.85" font-size="9.0" font-weight="normal" text-anchor="middle" fill="#000" >30</text>
<line x1="336.30" y1="151.25" x2="336.30" y2="153.55" stroke="#000" stroke-width="1.2" />
<line x1="340.54" y1="151.25" x2="340.54" y2="155.55" stroke="#000" stroke-width="1.2" />
<text x="340.54" y="163.85" font-size="9.0" font-weight="normal" text-anchor="middle" fill="#000" >40</text>
<line x1="197.40" y1="146.40" x2="201.60" y2="146.40" stroke="#000" stroke-width="1.2" />
<text x="194.10" y="146.40" font-size="9.0" font-weight="normal" text-anchor="middle" fill="#000" transform="rotate(-90 194.10 146.40)" >0</text>
<line x1="197.40" y1="114.50" x2="201.60" y2="114.50" stroke="#000" stroke-width="1.2" />
<text x="194.10" y="114.50" font-size="9.0" font-weight="normal" text-anchor="middle" fill="#000" transform="rotate(-90 194.10 114.50)" >5</text>
<line x1="197.40" y1="82.60" x2="201.60" y2="82.60" stroke="#000" stroke-width="1.2" />
<text x="194.10" y="82.60" font-size="9.0" font-weight="normal" text-anchor="middle" fill="#000" transform="rotate(-90 194.10 82.60)" >10</text>
<line x1="197.40" y1="50.70" x2="201.60" y2="50.70" stroke="#000" stroke-width="1.2" />
<text x="194.10" y="50.70" font-size="9.0" font-weight="normal" text-anchor="middle" fill="#000" transform="rotate(-90 194.10 50.70)" >15</text>
<line x1="197.40" y1="18.80" x2="201.60" y2="18.80" stroke="#000" stroke-width="1.2" />
<text x="194.10" y="18.80" font-size="9.0" font-weight="normal" text-anchor="middle" fill="#000" transform="rotate(-90 194.10 18.80)" >20</text>
<line x1="381.00" y1="128.20" x2="381.00" y2="118.40" stroke="#000" stroke-width="1.1" stroke-dasharray="3.2 2.9"/>
<path d="M379.60 116.20h2.8l-1.4 2.4z" fill="#000"/>
<line x1="381.00" y1="137.60" x2="381.00" y2="139.30" stroke="#000" stroke-width="1.1" stroke-dasharray="3.2 2.9"/>
<path d="M379.60 141.50h2.8l-1.4 -2.4z" fill="#000"/>
<rect x="379.25" y="128.20" width="3.50" height="9.40" fill="#fff" stroke="#000" stroke-width="1"/>
<line x1="379.25" y1="130.20" x2="382.75" y2="130.20" stroke="#000" stroke-width="2.0" />
<line x1="385.24" y1="128.80" x2="385.24" y2="125.80" stroke="#000" stroke-width="1.1" stroke-dasharray="3.2 2.9"/>
<path d="M383.84 123.60h2.8l-1.4 2.4z" fill="#000"/>
<line x1="385.24" y1="137.60" x2="385.24" y2="141.30" stroke="#000" stroke-width="1.1" stroke-dasharray="3.2 2.9"/>
<path d="M383.84 143.50h2.8l-1.4 -2.4z" fill="#000"/>
<rect x="383.49" y="128.80" width="3.50" height="8.80" fill="#fff" stroke="#000" stroke-width="1"/>
<line x1="383.49" y1="131.00" x2="386.99" y2="131.00" stroke="#000" stroke-width="2.0" />
<line x1="389.48" y1="129.50" x2="389.48" y2="125.80" stroke="#000" stroke-width="1.1" stroke-dasharray="3.2 2.9"/>
<path d="M388.08 123.60h2.8l-1.4 2.4z" fill="#000"/>
<line x1="389.48" y1="137.60" x2="389.48" y2="141.30" stroke="#000" stroke-width="1.1" stroke-dasharray="3.2 2.9"/>
<path d="M388.08 143.50h2.8l-1.4 -2.4z" fill="#000"/>
<rect x="387.73" y="129.50" width="3.50" height="8.10" fill="#fff" stroke="#000" stroke-width="1"/>
<line x1="387.73" y1="132.00" x2="391.23" y2="132.00" stroke="#000" stroke-width="2.0" />
<line x1="393.72" y1="128.80" x2="393.72" y2="122.40" stroke="#000" stroke-width="1.1" stroke-dasharray="3.2 2.9"/>
<path d="M392.32 120.20h2.8l-1.4 2.4z" fill="#000"/>
<line x1="393.72" y1="137.60" x2="393.72" y2="141.30" stroke="#000" stroke-width="1.1" stroke-dasharray="3.2 2.9"/>
<path d="M392.32 143.50h2.8l-1.4 -2.4z" fill="#000"/>
<rect x="391.97" y="128.80" width="3.50" height="8.80" fill="#fff" stroke="#000" stroke-width="1"/>
<line x1="391.97" y1="131.50" x2="395.47" y2="131.50" stroke="#000" stroke-width="2.0" />
<line x1="397.96" y1="128.20" x2="397.96" y2="121.00" stroke="#000" stroke-width="1.1" stroke-dasharray="3.2 2.9"/>
<path d="M396.56 118.80h2.8l-1.4 2.4z" fill="#000"/>
<line x1="397.96" y1="138.20" x2="397.96" y2="141.00" stroke="#000" stroke-width="1.1" stroke-dasharray="3.2 2.9"/>
<path d="M396.56 143.20h2.8l-1.4 -2.4z" fill="#000"/>
<rect x="396.21" y="128.20" width="3.50" height="10.00" fill="#fff" stroke="#000" stroke-width="1"/>
<line x1="396.21" y1="132.00" x2="399.71" y2="132.00" stroke="#000" stroke-width="2.0" />
<line x1="402.20" y1="128.80" x2="402.20" y2="122.40" stroke="#000" stroke-width="1.1" stroke-dasharray="3.2 2.9"/>
<path d="M400.80 120.20h2.8l-1.4 2.4z" fill="#000"/>
<line x1="402.20" y1="136.90" x2="402.20" y2="140.60" stroke="#000" stroke-width="1.1" stroke-dasharray="3.2 2.9"/>
<path d="M400.80 142.80h2.8l-1.4 -2.4z" fill="#000"/>
<rect x="400.45" y="128.80" width="3.50" height="8.10" fill="#fff" stroke="#000" stroke-width="1"/>
<line x1="400.45" y1="132.00" x2="403.95" y2="132.00" stroke="#000" stroke-width="2.0" />
<line x1="406.44" y1="129.50" x2="406.44" y2="127.80" stroke="#000" stroke-width="1.1" stroke-dasharray="3.2 2.9"/>
<path d="M405.04 125.60h2.8l-1.4 2.4z" fill="#000"/>
<line x1="406.44" y1="137.60" x2="406.44" y2="140.60" stroke="#000" stroke-width="1.1" stroke-dasharray="3.2 2.9"/>
<path d="M405.04 142.80h2.8l-1.4 -2.4z" fill="#000"/>
<rect x="404.69" y="129.50" width="3.50" height="8.10" fill="#fff" stroke="#000" stroke-width="1"/>
<line x1="404.69" y1="133.00" x2="408.19" y2="133.00" stroke="#000" stroke-width="2.0" />
<line x1="410.68" y1="131.50" x2="410.68" y2="127.80" stroke="#000" stroke-width="1.1" stroke-dasharray="3.2 2.9"/>
<path d="M409.28 125.60h2.8l-1.4 2.4z" fill="#000"/>
<rect x="408.93" y="131.50" width="3.50" height="7.40" fill="#fff" stroke="#000" stroke-width="1"/>
<line x1="408.93" y1="137.60" x2="412.43" y2="137.60" stroke="#000" stroke-width="2.0" />
<rect x="413.17" y="133.50" width="3.50" height="6.80" fill="#fff" stroke="#000" stroke-width="1"/>
<line x1="413.17" y1="137.00" x2="416.67" y2="137.00" stroke="#000" stroke-width="2.0" />
<rect x="417.41" y="135.60" width="3.50" height="5.40" fill="#fff" stroke="#000" stroke-width="1"/>
<line x1="417.41" y1="139.00" x2="420.91" y2="139.00" stroke="#000" stroke-width="2.0" />
<line x1="423.40" y1="136.90" x2="423.40" y2="135.90" stroke="#000" stroke-width="1.1" stroke-dasharray="3.2 2.9"/>
<path d="M422.00 133.70h2.8l-1.4 2.4z" fill="#000"/>
<rect x="421.65" y="136.90" width="3.50" height="5.40" fill="#fff" stroke="#000" stroke-width="1"/>
<line x1="421.65" y1="140.00" x2="425.15" y2="140.00" stroke="#000" stroke-width="2.0" />
<line x1="427.64" y1="138.20" x2="427.64" y2="137.90" stroke="#000" stroke-width="1.1" stroke-dasharray="3.2 2.9"/>
<path d="M426.24 135.70h2.8l-1.4 2.4z" fill="#000"/>
<rect x="425.89" y="138.20" width="3.50" height="5.40" fill="#fff" stroke="#000" stroke-width="1"/>
<line x1="425.89" y1="141.00" x2="429.39" y2="141.00" stroke="#000" stroke-width="2.0" />
<rect x="430.13" y="138.90" width="3.50" height="5.40" fill="#fff" stroke="#000" stroke-width="1"/>
<line x1="430.13" y1="142.00" x2="433.63" y2="142.00" stroke="#000" stroke-width="2.0" />
<rect x="434.37" y="139.60" width="3.50" height="5.40" fill="#fff" stroke="#000" stroke-width="1"/>
<line x1="434.37" y1="142.50" x2="437.87" y2="142.50" stroke="#000" stroke-width="2.0" />
<rect x="438.61" y="141.00" width="3.50" height="4.00" fill="#fff" stroke="#000" stroke-width="1"/>
<line x1="438.61" y1="143.00" x2="442.11" y2="143.00" stroke="#000" stroke-width="2.0" />
<line x1="444.60" y1="140.50" x2="444.60" y2="140.60" stroke="#000" stroke-width="1.1" stroke-dasharray="3.2 2.9"/>
<path d="M443.20 138.40h2.8l-1.4 2.4z" fill="#000"/>
<rect x="442.85" y="140.50" width="3.50" height="3.80" fill="#fff" stroke="#000" stroke-width="1"/>
<line x1="442.85" y1="142.50" x2="446.35" y2="142.50" stroke="#000" stroke-width="2.0" />
<rect x="447.09" y="141.00" width="3.50" height="3.30" fill="#fff" stroke="#000" stroke-width="1"/>
<line x1="447.09" y1="143.00" x2="450.59" y2="143.00" stroke="#000" stroke-width="2.0" />
<line x1="453.08" y1="141.00" x2="453.08" y2="140.60" stroke="#000" stroke-width="1.1" stroke-dasharray="3.2 2.9"/>
<path d="M451.68 138.40h2.8l-1.4 2.4z" fill="#000"/>
<rect x="451.33" y="141.00" width="3.50" height="3.30" fill="#fff" stroke="#000" stroke-width="1"/>
<line x1="451.33" y1="143.00" x2="454.83" y2="143.00" stroke="#000" stroke-width="2.0" />
<rect x="455.57" y="141.60" width="3.50" height="3.40" fill="#fff" stroke="#000" stroke-width="1"/>
<line x1="455.57" y1="143.50" x2="459.07" y2="143.50" stroke="#000" stroke-width="2.0" />
<rect x="459.81" y="142.30" width="3.50" height="2.70" fill="#fff" stroke="#000" stroke-width="1"/>
<line x1="459.81" y1="144.00" x2="463.31" y2="144.00" stroke="#000" stroke-width="2.0" />
<line x1="465.80" y1="142.30" x2="465.80" y2="141.30" stroke="#000" stroke-width="1.1" stroke-dasharray="3.2 2.9"/>
<path d="M464.40 139.10h2.8l-1.4 2.4z" fill="#000"/>
<rect x="464.05" y="142.30" width="3.50" height="2.70" fill="#fff" stroke="#000" stroke-width="1"/>
<line x1="464.05" y1="144.00" x2="467.55" y2="144.00" stroke="#000" stroke-width="2.0" />
<rect x="468.29" y="143.00" width="3.50" height="2.00" fill="#fff" stroke="#000" stroke-width="1"/>
<line x1="468.29" y1="144.30" x2="471.79" y2="144.30" stroke="#000" stroke-width="2.0" />
<rect x="472.53" y="142.30" width="3.50" height="2.70" fill="#fff" stroke="#000" stroke-width="1"/>
<line x1="472.53" y1="144.00" x2="476.03" y2="144.00" stroke="#000" stroke-width="2.0" />
<line x1="478.52" y1="136.00" x2="478.52" y2="128.30" stroke="#000" stroke-width="1.1" stroke-dasharray="3.2 2.9"/>
<path d="M477.12 126.10h2.8l-1.4 2.4z" fill="#000"/>
<line x1="478.52" y1="142.30" x2="478.52" y2="143.80" stroke="#000" stroke-width="1.1" stroke-dasharray="3.2 2.9"/>
<path d="M477.12 146.00h2.8l-1.4 -2.4z" fill="#000"/>
<rect x="476.77" y="136.00" width="3.50" height="6.30" fill="#fff" stroke="#000" stroke-width="1"/>
<line x1="476.77" y1="140.50" x2="480.27" y2="140.50" stroke="#000" stroke-width="2.0" />
<line x1="482.76" y1="126.50" x2="482.76" y2="111.70" stroke="#000" stroke-width="1.1" stroke-dasharray="3.2 2.9"/>
<path d="M481.36 109.50h2.8l-1.4 2.4z" fill="#000"/>
<line x1="482.76" y1="137.60" x2="482.76" y2="142.00" stroke="#000" stroke-width="1.1" stroke-dasharray="3.2 2.9"/>
<path d="M481.36 144.20h2.8l-1.4 -2.4z" fill="#000"/>
<rect x="481.01" y="126.50" width="3.50" height="11.10" fill="#fff" stroke="#000" stroke-width="1"/>
<line x1="481.01" y1="136.00" x2="484.51" y2="136.00" stroke="#000" stroke-width="2.0" />
<line x1="487.00" y1="106.60" x2="487.00" y2="98.00" stroke="#000" stroke-width="1.1" stroke-dasharray="3.2 2.9"/>
<path d="M485.60 95.80h2.8l-1.4 2.4z" fill="#000"/>
<line x1="487.00" y1="130.40" x2="487.00" y2="141.00" stroke="#000" stroke-width="1.1" stroke-dasharray="3.2 2.9"/>
<path d="M485.60 143.20h2.8l-1.4 -2.4z" fill="#000"/>
<rect x="485.25" y="106.60" width="3.50" height="23.80" fill="#fff" stroke="#000" stroke-width="1"/>
<line x1="485.25" y1="129.00" x2="488.75" y2="129.00" stroke="#000" stroke-width="2.0" />
<line x1="491.24" y1="29.20" x2="491.24" y2="15.60" stroke="#000" stroke-width="1.1" stroke-dasharray="3.2 2.9"/>
<path d="M489.84 13.40h2.8l-1.4 2.4z" fill="#000"/>
<line x1="491.24" y1="129.50" x2="491.24" y2="138.60" stroke="#000" stroke-width="1.1" stroke-dasharray="3.2 2.9"/>
<path d="M489.84 140.80h2.8l-1.4 -2.4z" fill="#000"/>
<rect x="489.49" y="29.20" width="3.50" height="100.30" fill="#fff" stroke="#000" stroke-width="1"/>
<line x1="489.49" y1="128.00" x2="492.99" y2="128.00" stroke="#000" stroke-width="2.0" />
<line x1="495.48" y1="80.10" x2="495.48" y2="48.00" stroke="#000" stroke-width="1.1" stroke-dasharray="3.2 2.9"/>
<path d="M494.08 45.80h2.8l-1.4 2.4z" fill="#000"/>
<line x1="495.48" y1="124.80" x2="495.48" y2="127.50" stroke="#000" stroke-width="1.1" stroke-dasharray="3.2 2.9"/>
<path d="M494.08 129.70h2.8l-1.4 -2.4z" fill="#000"/>
<rect x="493.73" y="80.10" width="3.50" height="44.70" fill="#fff" stroke="#000" stroke-width="1"/>
<line x1="493.73" y1="122.50" x2="497.23" y2="122.50" stroke="#000" stroke-width="2.0" />
<rect x="497.97" y="91.60" width="3.50" height="32.70" fill="#fff" stroke="#000" stroke-width="1"/>
<line x1="497.97" y1="112.00" x2="501.47" y2="112.00" stroke="#000" stroke-width="2.0" />
<line x1="503.96" y1="43.10" x2="503.96" y2="19.00" stroke="#000" stroke-width="1.1" stroke-dasharray="3.2 2.9"/>
<path d="M502.56 16.80h2.8l-1.4 2.4z" fill="#000"/>
<line x1="503.96" y1="78.80" x2="503.96" y2="87.90" stroke="#000" stroke-width="1.1" stroke-dasharray="3.2 2.9"/>
<path d="M502.56 90.10h2.8l-1.4 -2.4z" fill="#000"/>
<rect x="502.21" y="43.10" width="3.50" height="35.70" fill="#fff" stroke="#000" stroke-width="1"/>
<line x1="502.21" y1="62.70" x2="505.71" y2="62.70" stroke="#000" stroke-width="2.0" />
<line x1="508.20" y1="39.80" x2="508.20" y2="18.30" stroke="#000" stroke-width="1.1" stroke-dasharray="3.2 2.9"/>
<path d="M506.80 16.10h2.8l-1.4 2.4z" fill="#000"/>
<line x1="508.20" y1="102.50" x2="508.20" y2="121.20" stroke="#000" stroke-width="1.1" stroke-dasharray="3.2 2.9"/>
<path d="M506.80 123.40h2.8l-1.4 -2.4z" fill="#000"/>
<rect x="506.45" y="39.80" width="3.50" height="62.70" fill="#fff" stroke="#000" stroke-width="1"/>
<line x1="506.45" y1="98.00" x2="509.95" y2="98.00" stroke="#000" stroke-width="2.0" />
<line x1="512.44" y1="95.70" x2="512.44" y2="81.80" stroke="#000" stroke-width="1.1" stroke-dasharray="3.2 2.9"/>
<path d="M511.04 79.60h2.8l-1.4 2.4z" fill="#000"/>
<line x1="512.44" y1="126.30" x2="512.44" y2="128.70" stroke="#000" stroke-width="1.1" stroke-dasharray="3.2 2.9"/>
<path d="M511.04 130.90h2.8l-1.4 -2.4z" fill="#000"/>
<rect x="510.69" y="95.70" width="3.50" height="30.60" fill="#fff" stroke="#000" stroke-width="1"/>
<line x1="510.69" y1="102.50" x2="514.19" y2="102.50" stroke="#000" stroke-width="2.0" />
<line x1="373.50" y1="132.10" x2="519.00" y2="132.10" stroke="#c8c8c8" stroke-width="1.5" />
<line x1="397.96" y1="13.90" x2="397.96" y2="151.25" stroke="#c8c8c8" stroke-width="1.5" />
<line x1="373.50" y1="82.75" x2="519.00" y2="82.75" stroke="#000" stroke-width="1.3" stroke-dasharray="3.4 2.68" stroke-dashoffset="1.0"/>
<line x1="373.50" y1="125.05" x2="519.00" y2="125.05" stroke="#000" stroke-width="1.3" stroke-dasharray="3.4 2.68" stroke-dashoffset="1.0"/>
<rect x="373.50" y="13.90" width="145.50" height="137.35" fill="none" stroke="#000" stroke-width="1.4"/>
<text x="388.85" y="27.00" font-size="14.6" font-weight="bold" text-anchor="middle" fill="#000" >C</text>
<line x1="381.00" y1="151.25" x2="381.00" y2="155.55" stroke="#000" stroke-width="1.2" />
<text x="381.00" y="163.85" font-size="9.0" font-weight="normal" text-anchor="middle" fill="#000" >≤-4</text>
<line x1="385.24" y1="151.25" x2="385.24" y2="153.55" stroke="#000" stroke-width="1.2" />
<line x1="389.48" y1="151.25" x2="389.48" y2="153.55" stroke="#000" stroke-width="1.2" />
<line x1="393.72" y1="151.25" x2="393.72" y2="153.55" stroke="#000" stroke-width="1.2" />
<line x1="397.96" y1="151.25" x2="397.96" y2="155.55" stroke="#000" stroke-width="1.2" />
<text x="397.96" y="163.85" font-size="9.0" font-weight="normal" text-anchor="middle" fill="#000" >1</text>
<line x1="402.20" y1="151.25" x2="402.20" y2="153.55" stroke="#000" stroke-width="1.2" />
<line x1="406.44" y1="151.25" x2="406.44" y2="153.55" stroke="#000" stroke-width="1.2" />
<line x1="410.68" y1="151.25" x2="410.68" y2="153.55" stroke="#000" stroke-width="1.2" />
<line x1="414.92" y1="151.25" x2="414.92" y2="155.55" stroke="#000" stroke-width="1.2" />
<text x="414.92" y="163.85" font-size="9.0" font-weight="normal" text-anchor="middle" fill="#000" >5</text>
<line x1="419.16" y1="151.25" x2="419.16" y2="153.55" stroke="#000" stroke-width="1.2" />
<line x1="423.40" y1="151.25" x2="423.40" y2="153.55" stroke="#000" stroke-width="1.2" />
<line x1="427.64" y1="151.25" x2="427.64" y2="153.55" stroke="#000" stroke-width="1.2" />
<line x1="431.88" y1="151.25" x2="431.88" y2="153.55" stroke="#000" stroke-width="1.2" />
<line x1="436.12" y1="151.25" x2="436.12" y2="155.55" stroke="#000" stroke-width="1.2" />
<text x="436.12" y="163.85" font-size="9.0" font-weight="normal" text-anchor="middle" fill="#000" >10</text>
<line x1="440.36" y1="151.25" x2="440.36" y2="153.55" stroke="#000" stroke-width="1.2" />
<line x1="444.60" y1="151.25" x2="444.60" y2="153.55" stroke="#000" stroke-width="1.2" />
<line x1="448.84" y1="151.25" x2="448.84" y2="153.55" stroke="#000" stroke-width="1.2" />
<line x1="453.08" y1="151.25" x2="453.08" y2="153.55" stroke="#000" stroke-width="1.2" />
<line x1="457.32" y1="151.25" x2="457.32" y2="155.55" stroke="#000" stroke-width="1.2" />
<text x="457.32" y="163.85" font-size="9.0" font-weight="normal" text-anchor="middle" fill="#000" >15</text>
<line x1="461.56" y1="151.25" x2="461.56" y2="153.55" stroke="#000" stroke-width="1.2" />
<line x1="465.80" y1="151.25" x2="465.80" y2="153.55" stroke="#000" stroke-width="1.2" />
<line x1="470.04" y1="151.25" x2="470.04" y2="153.55" stroke="#000" stroke-width="1.2" />
<line x1="474.28" y1="151.25" x2="474.28" y2="153.55" stroke="#000" stroke-width="1.2" />
<line x1="478.52" y1="151.25" x2="478.52" y2="155.55" stroke="#000" stroke-width="1.2" />
<text x="478.52" y="163.85" font-size="9.0" font-weight="normal" text-anchor="middle" fill="#000" >20</text>
<line x1="482.76" y1="151.25" x2="482.76" y2="153.55" stroke="#000" stroke-width="1.2" />
<line x1="487.00" y1="151.25" x2="487.00" y2="153.55" stroke="#000" stroke-width="1.2" />
<line x1="491.24" y1="151.25" x2="491.24" y2="155.55" stroke="#000" stroke-width="1.2" />
<text x="491.24" y="163.85" font-size="9.0" font-weight="normal" text-anchor="middle" fill="#000" >24</text>
<line x1="495.48" y1="151.25" x2="495.48" y2="153.55" stroke="#000" stroke-width="1.2" />
<line x1="499.72" y1="151.25" x2="499.72" y2="153.55" stroke="#000" stroke-width="1.2" />
<line x1="503.96" y1="151.25" x2="503.96" y2="155.55" stroke="#000" stroke-width="1.2" />
<text x="503.96" y="163.85" font-size="9.0" font-weight="normal" text-anchor="middle" fill="#000" >30</text>
<line x1="508.20" y1="151.25" x2="508.20" y2="153.55" stroke="#000" stroke-width="1.2" />
<line x1="512.44" y1="151.25" x2="512.44" y2="155.55" stroke="#000" stroke-width="1.2" />
<text x="512.44" y="163.85" font-size="9.0" font-weight="normal" text-anchor="middle" fill="#000" >40</text>
<line x1="369.30" y1="146.20" x2="373.50" y2="146.20" stroke="#000" stroke-width="1.2" />
<text x="366.00" y="146.20" font-size="9.0" font-weight="normal" text-anchor="middle" fill="#000" transform="rotate(-90 366.00 146.20)" >0</text>
<line x1="369.30" y1="118.00" x2="373.50" y2="118.00" stroke="#000" stroke-width="1.2" />
<text x="366.00" y="118.00" font-size="9.0" font-weight="normal" text-anchor="middle" fill="#000" transform="rotate(-90 366.00 118.00)" >200</text>
<line x1="369.30" y1="89.80" x2="373.50" y2="89.80" stroke="#000" stroke-width="1.2" />
<text x="366.00" y="89.80" font-size="9.0" font-weight="normal" text-anchor="middle" fill="#000" transform="rotate(-90 366.00 89.80)" >400</text>
<line x1="369.30" y1="61.60" x2="373.50" y2="61.60" stroke="#000" stroke-width="1.2" />
<text x="366.00" y="61.60" font-size="9.0" font-weight="normal" text-anchor="middle" fill="#000" transform="rotate(-90 366.00 61.60)" >600</text>
<line x1="369.30" y1="33.40" x2="373.50" y2="33.40" stroke="#000" stroke-width="1.2" />
<text x="366.00" y="33.40" font-size="9.0" font-weight="normal" text-anchor="middle" fill="#000" transform="rotate(-90 366.00 33.40)" >800</text>
<text x="9.40" y="84.90" font-size="12.7" font-weight="bold" text-anchor="middle" fill="#000" transform="rotate(-90 9.40 84.90)" >Level 1</text>
<line x1="37.50" y1="219.70" x2="37.50" y2="208.80" stroke="#000" stroke-width="1.1" stroke-dasharray="3.2 2.9"/>
<path d="M36.10 206.60h2.8l-1.4 2.4z" fill="#000"/>
<line x1="37.50" y1="253.40" x2="37.50" y2="278.50" stroke="#000" stroke-width="1.1" stroke-dasharray="3.2 2.9"/>
<path d="M36.10 280.70h2.8l-1.4 -2.4z" fill="#000"/>
<rect x="35.75" y="219.70" width="3.50" height="33.70" fill="#fff" stroke="#000" stroke-width="1"/>
<line x1="35.75" y1="237.10" x2="39.25" y2="237.10" stroke="#000" stroke-width="2.0" />
<line x1="41.74" y1="254.00" x2="41.74" y2="272.00" stroke="#000" stroke-width="1.1" stroke-dasharray="3.2 2.9"/>
<path d="M40.34 274.20h2.8l-1.4 -2.4z" fill="#000"/>
<rect x="39.99" y="232.30" width="3.50" height="21.70" fill="#fff" stroke="#000" stroke-width="1"/>
<line x1="39.99" y1="241.50" x2="43.49" y2="241.50" stroke="#000" stroke-width="2.0" />
<line x1="45.98" y1="258.90" x2="45.98" y2="273.00" stroke="#000" stroke-width="1.1" stroke-dasharray="3.2 2.9"/>
<path d="M44.58 275.20h2.8l-1.4 -2.4z" fill="#000"/>
<rect x="44.23" y="236.00" width="3.50" height="22.90" fill="#fff" stroke="#000" stroke-width="1"/>
<line x1="44.23" y1="248.40" x2="47.73" y2="248.40" stroke="#000" stroke-width="2.0" />
<line x1="50.22" y1="239.30" x2="50.22" y2="236.00" stroke="#000" stroke-width="1.1" stroke-dasharray="3.2 2.9"/>
<path d="M48.82 233.80h2.8l-1.4 2.4z" fill="#000"/>
<line x1="50.22" y1="262.00" x2="50.22" y2="276.00" stroke="#000" stroke-width="1.1" stroke-dasharray="3.2 2.9"/>
<path d="M48.82 278.20h2.8l-1.4 -2.4z" fill="#000"/>
<rect x="48.47" y="239.30" width="3.50" height="22.70" fill="#fff" stroke="#000" stroke-width="1"/>
<line x1="48.47" y1="256.30" x2="51.97" y2="256.30" stroke="#000" stroke-width="2.0" />
<rect x="52.71" y="242.60" width="3.50" height="18.40" fill="#fff" stroke="#000" stroke-width="1"/>
<line x1="52.71" y1="256.70" x2="56.21" y2="256.70" stroke="#000" stroke-width="2.0" />
<line x1="58.70" y1="264.30" x2="58.70" y2="289.40" stroke="#000" stroke-width="1.1" stroke-dasharray="3.2 2.9"/>
<path d="M57.30 291.60h2.8l-1.4 -2.4z" fill="#000"/>
<rect x="56.95" y="251.30" width="3.50" height="13.00" fill="#fff" stroke="#000" stroke-width="1"/>
<line x1="56.95" y1="258.90" x2="60.45" y2="258.90" stroke="#000" stroke-width="2.0" />
<line x1="62.94" y1="249.00" x2="62.94" y2="245.00" stroke="#000" stroke-width="1.1" stroke-dasharray="3.2 2.9"/>
<path d="M61.54 242.80h2.8l-1.4 2.4z" fill="#000"/>
<line x1="62.94" y1="263.20" x2="62.94" y2="297.00" stroke="#000" stroke-width="1.1" stroke-dasharray="3.2 2.9"/>
<path d="M61.54 299.20h2.8l-1.4 -2.4z" fill="#000"/>
<rect x="61.19" y="249.00" width="3.50" height="14.20" fill="#fff" stroke="#000" stroke-width="1"/>
<line x1="61.19" y1="257.80" x2="64.69" y2="257.80" stroke="#000" stroke-width="2.0" />
<line x1="67.18" y1="258.90" x2="67.18" y2="257.00" stroke="#000" stroke-width="1.1" stroke-dasharray="3.2 2.9"/>
<path d="M65.78 254.80h2.8l-1.4 2.4z" fill="#000"/>
<line x1="67.18" y1="267.60" x2="67.18" y2="303.50" stroke="#000" stroke-width="1.1" stroke-dasharray="3.2 2.9"/>
<path d="M65.78 305.70h2.8l-1.4 -2.4z" fill="#000"/>
<rect x="65.43" y="258.90" width="3.50" height="8.70" fill="#fff" stroke="#000" stroke-width="1"/>
<line x1="65.43" y1="262.10" x2="68.93" y2="262.10" stroke="#000" stroke-width="2.0" />
<line x1="71.42" y1="266.50" x2="71.42" y2="264.00" stroke="#000" stroke-width="1.1" stroke-dasharray="3.2 2.9"/>
<path d="M70.02 261.80h2.8l-1.4 2.4z" fill="#000"/>
<rect x="69.67" y="266.50" width="3.50" height="6.50" fill="#fff" stroke="#000" stroke-width="1"/>
<line x1="69.67" y1="272.00" x2="73.17" y2="272.00" stroke="#000" stroke-width="2.0" />
<line x1="75.66" y1="278.40" x2="75.66" y2="292.50" stroke="#000" stroke-width="1.1" stroke-dasharray="3.2 2.9"/>
<path d="M74.26 294.70h2.8l-1.4 -2.4z" fill="#000"/>
<rect x="73.91" y="272.00" width="3.50" height="6.40" fill="#fff" stroke="#000" stroke-width="1"/>
<line x1="73.91" y1="275.20" x2="77.41" y2="275.20" stroke="#000" stroke-width="2.0" />
<line x1="79.90" y1="292.20" x2="79.90" y2="296.50" stroke="#000" stroke-width="1.1" stroke-dasharray="3.2 2.9"/>
<path d="M78.50 298.70h2.8l-1.4 -2.4z" fill="#000"/>
<rect x="78.15" y="281.00" width="3.50" height="11.20" fill="#fff" stroke="#000" stroke-width="1"/>
<line x1="78.15" y1="287.10" x2="81.65" y2="287.10" stroke="#000" stroke-width="2.0" />
<line x1="84.14" y1="291.50" x2="84.14" y2="296.50" stroke="#000" stroke-width="1.1" stroke-dasharray="3.2 2.9"/>
<path d="M82.74 298.70h2.8l-1.4 -2.4z" fill="#000"/>
<rect x="82.39" y="281.50" width="3.50" height="10.00" fill="#fff" stroke="#000" stroke-width="1"/>
<line x1="82.39" y1="287.10" x2="85.89" y2="287.10" stroke="#000" stroke-width="2.0" />
<line x1="88.38" y1="294.80" x2="88.38" y2="304.00" stroke="#000" stroke-width="1.1" stroke-dasharray="3.2 2.9"/>
<path d="M86.98 306.20h2.8l-1.4 -2.4z" fill="#000"/>
<rect x="86.63" y="286.80" width="3.50" height="8.00" fill="#fff" stroke="#000" stroke-width="1"/>
<line x1="86.63" y1="291.50" x2="90.13" y2="291.50" stroke="#000" stroke-width="2.0" />
<line x1="92.62" y1="296.20" x2="92.62" y2="296.50" stroke="#000" stroke-width="1.1" stroke-dasharray="3.2 2.9"/>
<path d="M91.22 298.70h2.8l-1.4 -2.4z" fill="#000"/>
<rect x="90.87" y="288.20" width="3.50" height="8.00" fill="#fff" stroke="#000" stroke-width="1"/>
<line x1="90.87" y1="292.60" x2="94.37" y2="292.60" stroke="#000" stroke-width="2.0" />
<line x1="96.86" y1="287.50" x2="96.86" y2="286.50" stroke="#000" stroke-width="1.1" stroke-dasharray="3.2 2.9"/>
<path d="M95.46 284.30h2.8l-1.4 2.4z" fill="#000"/>
<rect x="95.11" y="287.50" width="3.50" height="7.30" fill="#fff" stroke="#000" stroke-width="1"/>
<line x1="95.11" y1="292.00" x2="98.61" y2="292.00" stroke="#000" stroke-width="2.0" />
<rect x="99.35" y="288.80" width="3.50" height="4.70" fill="#fff" stroke="#000" stroke-width="1"/>
<line x1="99.35" y1="292.00" x2="102.85" y2="292.00" stroke="#000" stroke-width="2.0" />
<line x1="105.34" y1="288.20" x2="105.34" y2="286.50" stroke="#000" stroke-width="1.1" stroke-dasharray="3.2 2.9"/>
<path d="M103.94 284.30h2.8l-1.4 2.4z" fill="#000"/>
<line x1="105.34" y1="292.80" x2="105.34" y2="296.50" stroke="#000" stroke-width="1.1" stroke-dasharray="3.2 2.9"/>
<path d="M103.94 298.70h2.8l-1.4 -2.4z" fill="#000"/>
<rect x="103.59" y="288.20" width="3.50" height="4.60" fill="#fff" stroke="#000" stroke-width="1"/>
<line x1="103.59" y1="290.40" x2="107.09" y2="290.40" stroke="#000" stroke-width="2.0" />
<rect x="107.83" y="289.50" width="3.50" height="4.00" fill="#fff" stroke="#000" stroke-width="1"/>
<line x1="107.83" y1="292.00" x2="111.33" y2="292.00" stroke="#000" stroke-width="2.0" />
<line x1="113.82" y1="286.80" x2="113.82" y2="283.70" stroke="#000" stroke-width="1.1" stroke-dasharray="3.2 2.9"/>
<path d="M112.42 281.50h2.8l-1.4 2.4z" fill="#000"/>
<line x1="113.82" y1="292.20" x2="113.82" y2="296.50" stroke="#000" stroke-width="1.1" stroke-dasharray="3.2 2.9"/>
<path d="M112.42 298.70h2.8l-1.4 -2.4z" fill="#000"/>
<rect x="112.07" y="286.80" width="3.50" height="5.40" fill="#fff" stroke="#000" stroke-width="1"/>
<line x1="112.07" y1="289.30" x2="115.57" y2="289.30" stroke="#000" stroke-width="2.0" />
<rect x="116.31" y="288.80" width="3.50" height="3.40" fill="#fff" stroke="#000" stroke-width="1"/>
<line x1="116.31" y1="292.00" x2="119.81" y2="292.00" stroke="#000" stroke-width="2.0" />
<rect x="120.55" y="286.10" width="3.50" height="8.70" fill="#fff" stroke="#000" stroke-width="1"/>
<line x1="120.55" y1="291.50" x2="124.05" y2="291.50" stroke="#000" stroke-width="2.0" />
<line x1="126.54" y1="284.70" x2="126.54" y2="282.40" stroke="#000" stroke-width="1.1" stroke-dasharray="3.2 2.9"/>
<path d="M125.14 280.20h2.8l-1.4 2.4z" fill="#000"/>
<rect x="124.79" y="284.70" width="3.50" height="10.10" fill="#fff" stroke="#000" stroke-width="1"/>
<line x1="124.79" y1="289.30" x2="128.29" y2="289.30" stroke="#000" stroke-width="2.0" />
<line x1="130.78" y1="284.70" x2="130.78" y2="282.40" stroke="#000" stroke-width="1.1" stroke-dasharray="3.2 2.9"/>
<path d="M129.38 280.20h2.8l-1.4 2.4z" fill="#000"/>
<line x1="130.78" y1="294.80" x2="130.78" y2="296.50" stroke="#000" stroke-width="1.1" stroke-dasharray="3.2 2.9"/>
<path d="M129.38 298.70h2.8l-1.4 -2.4z" fill="#000"/>
<rect x="129.03" y="284.70" width="3.50" height="10.10" fill="#fff" stroke="#000" stroke-width="1"/>
<line x1="129.03" y1="289.30" x2="132.53" y2="289.30" stroke="#000" stroke-width="2.0" />
<line x1="135.02" y1="294.20" x2="135.02" y2="296.50" stroke="#000" stroke-width="1.1" stroke-dasharray="3.2 2.9"/>
<path d="M133.62 298.70h2.8l-1.4 -2.4z" fill="#000"/>
<rect x="133.27" y="286.10" width="3.50" height="8.10" fill="#fff" stroke="#000" stroke-width="1"/>
<line x1="133.27" y1="289.30" x2="136.77" y2="289.30" stroke="#000" stroke-width="2.0" />
<line x1="139.26" y1="293.50" x2="139.26" y2="296.50" stroke="#000" stroke-width="1.1" stroke-dasharray="3.2 2.9"/>
<path d="M137.86 298.70h2.8l-1.4 -2.4z" fill="#000"/>
<rect x="137.51" y="284.00" width="3.50" height="9.50" fill="#fff" stroke="#000" stroke-width="1"/>
<line x1="137.51" y1="288.20" x2="141.01" y2="288.20" stroke="#000" stroke-width="2.0" />
<line x1="143.50" y1="289.50" x2="143.50" y2="296.50" stroke="#000" stroke-width="1.1" stroke-dasharray="3.2 2.9"/>
<path d="M142.10 298.70h2.8l-1.4 -2.4z" fill="#000"/>
<rect x="141.75" y="280.70" width="3.50" height="8.80" fill="#fff" stroke="#000" stroke-width="1"/>
<line x1="141.75" y1="282.50" x2="145.25" y2="282.50" stroke="#000" stroke-width="2.0" />
<rect x="145.99" y="269.70" width="3.50" height="8.70" fill="#fff" stroke="#000" stroke-width="1"/>
<line x1="145.99" y1="276.30" x2="149.49" y2="276.30" stroke="#000" stroke-width="2.0" />
<line x1="151.98" y1="277.30" x2="151.98" y2="283.00" stroke="#000" stroke-width="1.1" stroke-dasharray="3.2 2.9"/>
<path d="M150.58 285.20h2.8l-1.4 -2.4z" fill="#000"/>
<rect x="150.23" y="263.20" width="3.50" height="14.10" fill="#fff" stroke="#000" stroke-width="1"/>
<line x1="150.23" y1="271.90" x2="153.73" y2="271.90" stroke="#000" stroke-width="2.0" />
<line x1="156.22" y1="260.00" x2="156.22" y2="256.00" stroke="#000" stroke-width="1.1" stroke-dasharray="3.2 2.9"/>
<path d="M154.82 253.80h2.8l-1.4 2.4z" fill="#000"/>
<line x1="156.22" y1="279.50" x2="156.22" y2="283.00" stroke="#000" stroke-width="1.1" stroke-dasharray="3.2 2.9"/>
<path d="M154.82 285.20h2.8l-1.4 -2.4z" fill="#000"/>
<rect x="154.47" y="260.00" width="3.50" height="19.50" fill="#fff" stroke="#000" stroke-width="1"/>
<line x1="154.47" y1="267.60" x2="157.97" y2="267.60" stroke="#000" stroke-width="2.0" />
<line x1="160.46" y1="255.60" x2="160.46" y2="251.20" stroke="#000" stroke-width="1.1" stroke-dasharray="3.2 2.9"/>
<path d="M159.06 249.00h2.8l-1.4 2.4z" fill="#000"/>
<line x1="160.46" y1="280.60" x2="160.46" y2="283.50" stroke="#000" stroke-width="1.1" stroke-dasharray="3.2 2.9"/>
<path d="M159.06 285.70h2.8l-1.4 -2.4z" fill="#000"/>
<rect x="158.71" y="255.60" width="3.50" height="25.00" fill="#fff" stroke="#000" stroke-width="1"/>
<line x1="158.71" y1="271.00" x2="162.21" y2="271.00" stroke="#000" stroke-width="2.0" />
<line x1="164.70" y1="253.40" x2="164.70" y2="247.90" stroke="#000" stroke-width="1.1" stroke-dasharray="3.2 2.9"/>
<path d="M163.30 245.70h2.8l-1.4 2.4z" fill="#000"/>
<rect x="162.95" y="253.40" width="3.50" height="19.60" fill="#fff" stroke="#000" stroke-width="1"/>
<line x1="162.95" y1="254.50" x2="166.45" y2="254.50" stroke="#000" stroke-width="2.0" />
<line x1="168.94" y1="244.70" x2="168.94" y2="242.50" stroke="#000" stroke-width="1.1" stroke-dasharray="3.2 2.9"/>
<path d="M167.54 240.30h2.8l-1.4 2.4z" fill="#000"/>
<rect x="167.19" y="244.70" width="3.50" height="9.80" fill="#fff" stroke="#000" stroke-width="1"/>
<line x1="167.19" y1="249.00" x2="170.69" y2="249.00" stroke="#000" stroke-width="2.0" />
<line x1="30.00" y1="279.40" x2="176.25" y2="279.40" stroke="#c8c8c8" stroke-width="1.5" />
<line x1="54.46" y1="185.55" x2="54.46" y2="322.75" stroke="#c8c8c8" stroke-width="1.5" />
<line x1="30.00" y1="238.86" x2="176.25" y2="238.86" stroke="#000" stroke-width="1.3" stroke-dasharray="3.4 2.68" stroke-dashoffset="1.0"/>
<line x1="30.00" y1="258.74" x2="176.25" y2="258.74" stroke="#000" stroke-width="1.3" stroke-dasharray="3.4 2.68" stroke-dashoffset="1.0"/>
<rect x="30.00" y="185.55" width="146.25" height="137.20" fill="none" stroke="#000" stroke-width="1.4"/>
<text x="45.35" y="198.65" font-size="14.6" font-weight="bold" text-anchor="middle" fill="#000" >D</text>
<line x1="37.50" y1="322.75" x2="37.50" y2="327.05" stroke="#000" stroke-width="1.2" />
<text x="37.50" y="335.35" font-size="9.0" font-weight="normal" text-anchor="middle" fill="#000" >≤-4</text>
<line x1="41.74" y1="322.75" x2="41.74" y2="325.05" stroke="#000" stroke-width="1.2" />
<line x1="45.98" y1="322.75" x2="45.98" y2="325.05" stroke="#000" stroke-width="1.2" />
<line x1="50.22" y1="322.75" x2="50.22" y2="325.05" stroke="#000" stroke-width="1.2" />
<line x1="54.46" y1="322.75" x2="54.46" y2="327.05" stroke="#000" stroke-width="1.2" />
<text x="54.46" y="335.35" font-size="9.0" font-weight="normal" text-anchor="middle" fill="#000" >1</text>
<line x1="58.70" y1="322.75" x2="58.70" y2="325.05" stroke="#000" stroke-width="1.2" />
<line x1="62.94" y1="322.75" x2="62.94" y2="325.05" stroke="#000" stroke-width="1.2" />
<line x1="67.18" y1="322.75" x2="67.18" y2="325.05" stroke="#000" stroke-width="1.2" />
<line x1="71.42" y1="322.75" x2="71.42" y2="327.05" stroke="#000" stroke-width="1.2" />
<text x="71.42" y="335.35" font-size="9.0" font-weight="normal" text-anchor="middle" fill="#000" >5</text>
<line x1="75.66" y1="322.75" x2="75.66" y2="325.05" stroke="#000" stroke-width="1.2" />
<line x1="79.90" y1="322.75" x2="79.90" y2="325.05" stroke="#000" stroke-width="1.2" />
<line x1="84.14" y1="322.75" x2="84.14" y2="325.05" stroke="#000" stroke-width="1.2" />
<line x1="88.38" y1="322.75" x2="88.38" y2="325.05" stroke="#000" stroke-width="1.2" />
<line x1="92.62" y1="322.75" x2="92.62" y2="327.05" stroke="#000" stroke-width="1.2" />
<text x="92.62" y="335.35" font-size="9.0" font-weight="normal" text-anchor="middle" fill="#000" >10</text>
<line x1="96.86" y1="322.75" x2="96.86" y2="325.05" stroke="#000" stroke-width="1.2" />
<line x1="101.10" y1="322.75" x2="101.10" y2="325.05" stroke="#000" stroke-width="1.2" />
<line x1="105.34" y1="322.75" x2="105.34" y2="325.05" stroke="#000" stroke-width="1.2" />
<line x1="109.58" y1="322.75" x2="109.58" y2="325.05" stroke="#000" stroke-width="1.2" />
<line x1="113.82" y1="322.75" x2="113.82" y2="327.05" stroke="#000" stroke-width="1.2" />
<text x="113.82" y="335.35" font-size="9.0" font-weight="normal" text-anchor="middle" fill="#000" >15</text>
<line x1="118.06" y1="322.75" x2="118.06" y2="325.05" stroke="#000" stroke-width="1.2" />
<line x1="122.30" y1="322.75" x2="122.30" y2="325.05" stroke="#000" stroke-width="1.2" />
<line x1="126.54" y1="322.75" x2="126.54" y2="325.05" stroke="#000" stroke-width="1.2" />
<line x1="130.78" y1="322.75" x2="130.78" y2="325.05" stroke="#000" stroke-width="1.2" />
<line x1="135.02" y1="322.75" x2="135.02" y2="327.05" stroke="#000" stroke-width="1.2" />
<text x="135.02" y="335.35" font-size="9.0" font-weight="normal" text-anchor="middle" fill="#000" >20</text>
<line x1="139.26" y1="322.75" x2="139.26" y2="325.05" stroke="#000" stroke-width="1.2" />
<line x1="143.50" y1="322.75" x2="143.50" y2="325.05" stroke="#000" stroke-width="1.2" />
<line x1="147.74" y1="322.75" x2="147.74" y2="327.05" stroke="#000" stroke-width="1.2" />
<text x="147.74" y="335.35" font-size="9.0" font-weight="normal" text-anchor="middle" fill="#000" >24</text>
<line x1="151.98" y1="322.75" x2="151.98" y2="325.05" stroke="#000" stroke-width="1.2" />
<line x1="156.22" y1="322.75" x2="156.22" y2="325.05" stroke="#000" stroke-width="1.2" />
<line x1="160.46" y1="322.75" x2="160.46" y2="327.05" stroke="#000" stroke-width="1.2" />
<text x="160.46" y="335.35" font-size="9.0" font-weight="normal" text-anchor="middle" fill="#000" >30</text>
<line x1="164.70" y1="322.75" x2="164.70" y2="325.05" stroke="#000" stroke-width="1.2" />
<line x1="168.94" y1="322.75" x2="168.94" y2="327.05" stroke="#000" stroke-width="1.2" />
<text x="168.94" y="335.35" font-size="9.0" font-weight="normal" text-anchor="middle" fill="#000" >40</text>
<line x1="25.80" y1="317.90" x2="30.00" y2="317.90" stroke="#000" stroke-width="1.2" />
<text x="22.50" y="317.90" font-size="9.0" font-weight="normal" text-anchor="middle" fill="#000" transform="rotate(-90 22.50 317.90)" >0.1</text>
<line x1="25.80" y1="290.99" x2="30.00" y2="290.99" stroke="#000" stroke-width="1.2" />
<text x="22.50" y="290.99" font-size="9.0" font-weight="normal" text-anchor="middle" fill="#000" transform="rotate(-90 22.50 290.99)" >0.5</text>
<line x1="25.80" y1="279.40" x2="30.00" y2="279.40" stroke="#000" stroke-width="1.2" />
<line x1="25.80" y1="252.49" x2="30.00" y2="252.49" stroke="#000" stroke-width="1.2" />
<text x="22.50" y="252.49" font-size="9.0" font-weight="normal" text-anchor="middle" fill="#000" transform="rotate(-90 22.50 252.49)" >5.0</text>
<line x1="25.80" y1="240.90" x2="30.00" y2="240.90" stroke="#000" stroke-width="1.2" />
<line x1="25.80" y1="213.99" x2="30.00" y2="213.99" stroke="#000" stroke-width="1.2" />
<text x="22.50" y="215.99" font-size="9.0" font-weight="normal" text-anchor="middle" fill="#000" transform="rotate(-90 22.50 215.99)" >50.0</text>
<line x1="25.80" y1="202.40" x2="30.00" y2="202.40" stroke="#000" stroke-width="1.2" />
<line x1="209.10" y1="304.60" x2="209.10" y2="314.70" stroke="#000" stroke-width="1.1" stroke-dasharray="3.2 2.9"/>
<path d="M207.70 316.90h2.8l-1.4 -2.4z" fill="#000"/>
<rect x="207.35" y="193.80" width="3.50" height="110.80" fill="#fff" stroke="#000" stroke-width="1"/>
<line x1="207.35" y1="296.00" x2="210.85" y2="296.00" stroke="#000" stroke-width="2.0" />
<line x1="213.34" y1="242.10" x2="213.34" y2="187.00" stroke="#000" stroke-width="1.1" stroke-dasharray="3.2 2.9"/>
<path d="M211.94 184.80h2.8l-1.4 2.4z" fill="#000"/>
<line x1="213.34" y1="309.20" x2="213.34" y2="314.70" stroke="#000" stroke-width="1.1" stroke-dasharray="3.2 2.9"/>
<path d="M211.94 316.90h2.8l-1.4 -2.4z" fill="#000"/>
<rect x="211.59" y="242.10" width="3.50" height="67.10" fill="#fff" stroke="#000" stroke-width="1"/>
<line x1="211.59" y1="296.10" x2="215.09" y2="296.10" stroke="#000" stroke-width="2.0" />
<line x1="217.58" y1="267.40" x2="217.58" y2="249.70" stroke="#000" stroke-width="1.1" stroke-dasharray="3.2 2.9"/>
<path d="M216.18 247.50h2.8l-1.4 2.4z" fill="#000"/>
<line x1="217.58" y1="303.30" x2="217.58" y2="314.70" stroke="#000" stroke-width="1.1" stroke-dasharray="3.2 2.9"/>
<path d="M216.18 316.90h2.8l-1.4 -2.4z" fill="#000"/>
<rect x="215.83" y="267.40" width="3.50" height="35.90" fill="#fff" stroke="#000" stroke-width="1"/>
<line x1="215.83" y1="302.00" x2="219.33" y2="302.00" stroke="#000" stroke-width="2.0" />
<line x1="221.82" y1="279.20" x2="221.82" y2="252.30" stroke="#000" stroke-width="1.1" stroke-dasharray="3.2 2.9"/>
<path d="M220.42 250.10h2.8l-1.4 2.4z" fill="#000"/>
<line x1="221.82" y1="309.80" x2="221.82" y2="314.70" stroke="#000" stroke-width="1.1" stroke-dasharray="3.2 2.9"/>
<path d="M220.42 316.90h2.8l-1.4 -2.4z" fill="#000"/>
<rect x="220.07" y="279.20" width="3.50" height="30.60" fill="#fff" stroke="#000" stroke-width="1"/>
<line x1="220.07" y1="307.90" x2="223.57" y2="307.90" stroke="#000" stroke-width="2.0" />
<line x1="230.30" y1="296.10" x2="230.30" y2="294.50" stroke="#000" stroke-width="1.1" stroke-dasharray="3.2 2.9"/>
<path d="M228.90 292.30h2.8l-1.4 2.4z" fill="#000"/>
<line x1="230.30" y1="305.30" x2="230.30" y2="314.70" stroke="#000" stroke-width="1.1" stroke-dasharray="3.2 2.9"/>
<path d="M228.90 316.90h2.8l-1.4 -2.4z" fill="#000"/>
<rect x="228.55" y="296.10" width="3.50" height="9.20" fill="#fff" stroke="#000" stroke-width="1"/>
<line x1="228.55" y1="301.30" x2="232.05" y2="301.30" stroke="#000" stroke-width="2.0" />
<rect x="232.79" y="296.80" width="3.50" height="6.50" fill="#fff" stroke="#000" stroke-width="1"/>
<line x1="232.79" y1="300.00" x2="236.29" y2="300.00" stroke="#000" stroke-width="2.0" />
<rect x="237.03" y="298.10" width="3.50" height="9.10" fill="#fff" stroke="#000" stroke-width="1"/>
<line x1="237.03" y1="305.30" x2="240.53" y2="305.30" stroke="#000" stroke-width="2.0" />
<rect x="241.27" y="307.90" width="3.50" height="3.20" fill="#fff" stroke="#000" stroke-width="1"/>
<line x1="241.27" y1="309.50" x2="244.77" y2="309.50" stroke="#000" stroke-width="2.0" />
<rect x="245.51" y="311.10" width="3.50" height="3.30" fill="#fff" stroke="#000" stroke-width="1"/>
<line x1="245.51" y1="312.80" x2="249.01" y2="312.80" stroke="#000" stroke-width="2.0" />
<rect x="249.75" y="313.00" width="3.50" height="2.50" fill="#fff" stroke="#000" stroke-width="1"/>
<line x1="249.75" y1="314.50" x2="253.25" y2="314.50" stroke="#000" stroke-width="2.0" />
<rect x="253.99" y="316.00" width="3.50" height="1.60" fill="#fff" stroke="#000" stroke-width="1"/>
<line x1="253.99" y1="316.80" x2="257.49" y2="316.80" stroke="#000" stroke-width="2.0" />
<rect x="258.23" y="316.00" width="3.50" height="1.60" fill="#fff" stroke="#000" stroke-width="1"/>
<line x1="258.23" y1="316.80" x2="261.73" y2="316.80" stroke="#000" stroke-width="2.0" />
<rect x="262.47" y="316.00" width="3.50" height="1.60" fill="#fff" stroke="#000" stroke-width="1"/>
<line x1="262.47" y1="316.80" x2="265.97" y2="316.80" stroke="#000" stroke-width="2.0" />
<rect x="266.71" y="316.00" width="3.50" height="1.60" fill="#fff" stroke="#000" stroke-width="1"/>
<line x1="266.71" y1="316.80" x2="270.21" y2="316.80" stroke="#000" stroke-width="2.0" />
<rect x="270.95" y="316.00" width="3.50" height="1.60" fill="#fff" stroke="#000" stroke-width="1"/>
<line x1="270.95" y1="316.80" x2="274.45" y2="316.80" stroke="#000" stroke-width="2.0" />
<rect x="275.19" y="316.00" width="3.50" height="1.60" fill="#fff" stroke="#000" stroke-width="1"/>
<line x1="275.19" y1="316.80" x2="278.69" y2="316.80" stroke="#000" stroke-width="2.0" />
<rect x="279.43" y="316.00" width="3.50" height="1.60" fill="#fff" stroke="#000" stroke-width="1"/>
<line x1="279.43" y1="316.80" x2="282.93" y2="316.80" stroke="#000" stroke-width="2.0" />
<rect x="283.67" y="316.00" width="3.50" height="1.60" fill="#fff" stroke="#000" stroke-width="1"/>
<line x1="283.67" y1="316.80" x2="287.17" y2="316.80" stroke="#000" stroke-width="2.0" />
<rect x="287.91" y="316.00" width="3.50" height="1.60" fill="#fff" stroke="#000" stroke-width="1"/>
<line x1="287.91" y1="316.80" x2="291.41" y2="316.80" stroke="#000" stroke-width="2.0" />
<rect x="292.15" y="316.00" width="3.50" height="1.60" fill="#fff" stroke="#000" stroke-width="1"/>
<line x1="292.15" y1="316.80" x2="295.65" y2="316.80" stroke="#000" stroke-width="2.0" />
<rect x="296.39" y="316.00" width="3.50" height="1.60" fill="#fff" stroke="#000" stroke-width="1"/>
<line x1="296.39" y1="316.80" x2="299.89" y2="316.80" stroke="#000" stroke-width="2.0" />
<rect x="300.63" y="316.00" width="3.50" height="1.60" fill="#fff" stroke="#000" stroke-width="1"/>
<line x1="300.63" y1="316.80" x2="304.13" y2="316.80" stroke="#000" stroke-width="2.0" />
<rect x="304.87" y="316.00" width="3.50" height="1.60" fill="#fff" stroke="#000" stroke-width="1"/>
<line x1="304.87" y1="316.80" x2="308.37" y2="316.80" stroke="#000" stroke-width="2.0" />
<rect x="309.11" y="316.00" width="3.50" height="1.60" fill="#fff" stroke="#000" stroke-width="1"/>
<line x1="309.11" y1="316.80" x2="312.61" y2="316.80" stroke="#000" stroke-width="2.0" />
<rect x="313.35" y="315.00" width="3.50" height="2.00" fill="#fff" stroke="#000" stroke-width="1"/>
<line x1="313.35" y1="316.00" x2="316.85" y2="316.00" stroke="#000" stroke-width="2.0" />
<rect x="317.59" y="313.70" width="3.50" height="2.60" fill="#fff" stroke="#000" stroke-width="1"/>
<line x1="317.59" y1="315.00" x2="321.09" y2="315.00" stroke="#000" stroke-width="2.0" />
<rect x="321.83" y="313.70" width="3.50" height="2.60" fill="#fff" stroke="#000" stroke-width="1"/>
<line x1="321.83" y1="315.00" x2="325.33" y2="315.00" stroke="#000" stroke-width="2.0" />
<rect x="326.07" y="309.80" width="3.50" height="5.80" fill="#fff" stroke="#000" stroke-width="1"/>
<line x1="326.07" y1="313.70" x2="329.57" y2="313.70" stroke="#000" stroke-width="2.0" />
<line x1="332.06" y1="301.30" x2="332.06" y2="293.80" stroke="#000" stroke-width="1.1" stroke-dasharray="3.2 2.9"/>
<path d="M330.66 291.60h2.8l-1.4 2.4z" fill="#000"/>
<rect x="330.31" y="301.30" width="3.50" height="13.00" fill="#fff" stroke="#000" stroke-width="1"/>
<line x1="330.31" y1="312.40" x2="333.81" y2="312.40" stroke="#000" stroke-width="2.0" />
<line x1="336.30" y1="299.30" x2="336.30" y2="291.90" stroke="#000" stroke-width="1.1" stroke-dasharray="3.2 2.9"/>
<path d="M334.90 289.70h2.8l-1.4 2.4z" fill="#000"/>
<rect x="334.55" y="299.30" width="3.50" height="14.40" fill="#fff" stroke="#000" stroke-width="1"/>
<line x1="334.55" y1="304.50" x2="338.05" y2="304.50" stroke="#000" stroke-width="2.0" />
<line x1="340.54" y1="279.80" x2="340.54" y2="272.30" stroke="#000" stroke-width="1.1" stroke-dasharray="3.2 2.9"/>
<path d="M339.14 270.10h2.8l-1.4 2.4z" fill="#000"/>
<rect x="338.79" y="279.80" width="3.50" height="24.70" fill="#fff" stroke="#000" stroke-width="1"/>
<line x1="338.79" y1="288.90" x2="342.29" y2="288.90" stroke="#000" stroke-width="2.0" />
<line x1="201.60" y1="311.67" x2="347.50" y2="311.67" stroke="#c8c8c8" stroke-width="1.5" />
<line x1="226.06" y1="185.55" x2="226.06" y2="322.75" stroke="#c8c8c8" stroke-width="1.5" />
<line x1="201.60" y1="286.15" x2="347.50" y2="286.15" stroke="#000" stroke-width="1.3" stroke-dasharray="3.4 2.68" stroke-dashoffset="1.0"/>
<line x1="201.60" y1="305.29" x2="347.50" y2="305.29" stroke="#000" stroke-width="1.3" stroke-dasharray="3.4 2.68" stroke-dashoffset="1.0"/>
<rect x="201.60" y="185.55" width="145.90" height="137.20" fill="none" stroke="#000" stroke-width="1.4"/>
<text x="216.95" y="198.65" font-size="14.6" font-weight="bold" text-anchor="middle" fill="#000" >E</text>
<line x1="209.10" y1="322.75" x2="209.10" y2="327.05" stroke="#000" stroke-width="1.2" />
<text x="209.10" y="335.35" font-size="9.0" font-weight="normal" text-anchor="middle" fill="#000" >≤-4</text>
<line x1="213.34" y1="322.75" x2="213.34" y2="325.05" stroke="#000" stroke-width="1.2" />
<line x1="217.58" y1="322.75" x2="217.58" y2="325.05" stroke="#000" stroke-width="1.2" />
<line x1="221.82" y1="322.75" x2="221.82" y2="325.05" stroke="#000" stroke-width="1.2" />
<line x1="226.06" y1="322.75" x2="226.06" y2="327.05" stroke="#000" stroke-width="1.2" />
<text x="226.06" y="335.35" font-size="9.0" font-weight="normal" text-anchor="middle" fill="#000" >1</text>
<line x1="230.30" y1="322.75" x2="230.30" y2="325.05" stroke="#000" stroke-width="1.2" />
<line x1="234.54" y1="322.75" x2="234.54" y2="325.05" stroke="#000" stroke-width="1.2" />
<line x1="238.78" y1="322.75" x2="238.78" y2="325.05" stroke="#000" stroke-width="1.2" />
<line x1="243.02" y1="322.75" x2="243.02" y2="327.05" stroke="#000" stroke-width="1.2" />
<text x="243.02" y="335.35" font-size="9.0" font-weight="normal" text-anchor="middle" fill="#000" >5</text>
<line x1="247.26" y1="322.75" x2="247.26" y2="325.05" stroke="#000" stroke-width="1.2" />
<line x1="251.50" y1="322.75" x2="251.50" y2="325.05" stroke="#000" stroke-width="1.2" />
<line x1="255.74" y1="322.75" x2="255.74" y2="325.05" stroke="#000" stroke-width="1.2" />
<line x1="259.98" y1="322.75" x2="259.98" y2="325.05" stroke="#000" stroke-width="1.2" />
<line x1="264.22" y1="322.75" x2="264.22" y2="327.05" stroke="#000" stroke-width="1.2" />
<text x="264.22" y="335.35" font-size="9.0" font-weight="normal" text-anchor="middle" fill="#000" >10</text>
<line x1="268.46" y1="322.75" x2="268.46" y2="325.05" stroke="#000" stroke-width="1.2" />
<line x1="272.70" y1="322.75" x2="272.70" y2="325.05" stroke="#000" stroke-width="1.2" />
<line x1="276.94" y1="322.75" x2="276.94" y2="325.05" stroke="#000" stroke-width="1.2" />
<line x1="281.18" y1="322.75" x2="281.18" y2="325.05" stroke="#000" stroke-width="1.2" />
<line x1="285.42" y1="322.75" x2="285.42" y2="327.05" stroke="#000" stroke-width="1.2" />
<text x="285.42" y="335.35" font-size="9.0" font-weight="normal" text-anchor="middle" fill="#000" >15</text>
<line x1="289.66" y1="322.75" x2="289.66" y2="325.05" stroke="#000" stroke-width="1.2" />
<line x1="293.90" y1="322.75" x2="293.90" y2="325.05" stroke="#000" stroke-width="1.2" />
<line x1="298.14" y1="322.75" x2="298.14" y2="325.05" stroke="#000" stroke-width="1.2" />
<line x1="302.38" y1="322.75" x2="302.38" y2="325.05" stroke="#000" stroke-width="1.2" />
<line x1="306.62" y1="322.75" x2="306.62" y2="327.05" stroke="#000" stroke-width="1.2" />
<text x="306.62" y="335.35" font-size="9.0" font-weight="normal" text-anchor="middle" fill="#000" >20</text>
<line x1="310.86" y1="322.75" x2="310.86" y2="325.05" stroke="#000" stroke-width="1.2" />
<line x1="315.10" y1="322.75" x2="315.10" y2="325.05" stroke="#000" stroke-width="1.2" />
<line x1="319.34" y1="322.75" x2="319.34" y2="327.05" stroke="#000" stroke-width="1.2" />
<text x="319.34" y="335.35" font-size="9.0" font-weight="normal" text-anchor="middle" fill="#000" >24</text>
<line x1="323.58" y1="322.75" x2="323.58" y2="325.05" stroke="#000" stroke-width="1.2" />
<line x1="327.82" y1="322.75" x2="327.82" y2="325.05" stroke="#000" stroke-width="1.2" />
<line x1="332.06" y1="322.75" x2="332.06" y2="327.05" stroke="#000" stroke-width="1.2" />
<text x="332.06" y="335.35" font-size="9.0" font-weight="normal" text-anchor="middle" fill="#000" >30</text>
<line x1="336.30" y1="322.75" x2="336.30" y2="325.05" stroke="#000" stroke-width="1.2" />
<line x1="340.54" y1="322.75" x2="340.54" y2="327.05" stroke="#000" stroke-width="1.2" />
<text x="340.54" y="335.35" font-size="9.0" font-weight="normal" text-anchor="middle" fill="#000" >40</text>
<line x1="197.40" y1="318.05" x2="201.60" y2="318.05" stroke="#000" stroke-width="1.2" />
<text x="194.10" y="318.05" font-size="9.0" font-weight="normal" text-anchor="middle" fill="#000" transform="rotate(-90 194.10 318.05)" >0</text>
<line x1="197.40" y1="286.15" x2="201.60" y2="286.15" stroke="#000" stroke-width="1.2" />
<text x="194.10" y="286.15" font-size="9.0" font-weight="normal" text-anchor="middle" fill="#000" transform="rotate(-90 194.10 286.15)" >5</text>
<line x1="197.40" y1="254.25" x2="201.60" y2="254.25" stroke="#000" stroke-width="1.2" />
<text x="194.10" y="254.25" font-size="9.0" font-weight="normal" text-anchor="middle" fill="#000" transform="rotate(-90 194.10 254.25)" >10</text>
<line x1="197.40" y1="222.35" x2="201.60" y2="222.35" stroke="#000" stroke-width="1.2" />
<text x="194.10" y="222.35" font-size="9.0" font-weight="normal" text-anchor="middle" fill="#000" transform="rotate(-90 194.10 222.35)" >15</text>
<line x1="197.40" y1="190.45" x2="201.60" y2="190.45" stroke="#000" stroke-width="1.2" />
<text x="194.10" y="190.45" font-size="9.0" font-weight="normal" text-anchor="middle" fill="#000" transform="rotate(-90 194.10 190.45)" >20</text>
<line x1="381.00" y1="304.60" x2="381.00" y2="294.70" stroke="#000" stroke-width="1.1" stroke-dasharray="3.2 2.9"/>
<path d="M379.60 292.50h2.8l-1.4 2.4z" fill="#000"/>
<line x1="381.00" y1="311.60" x2="381.00" y2="313.50" stroke="#000" stroke-width="1.1" stroke-dasharray="3.2 2.9"/>
<path d="M379.60 315.70h2.8l-1.4 -2.4z" fill="#000"/>
<rect x="379.25" y="304.60" width="3.50" height="7.00" fill="#fff" stroke="#000" stroke-width="1"/>
<line x1="379.25" y1="309.30" x2="382.75" y2="309.30" stroke="#000" stroke-width="2.0" />
<line x1="385.24" y1="304.60" x2="385.24" y2="301.00" stroke="#000" stroke-width="1.1" stroke-dasharray="3.2 2.9"/>
<path d="M383.84 298.80h2.8l-1.4 2.4z" fill="#000"/>
<line x1="385.24" y1="312.10" x2="385.24" y2="313.30" stroke="#000" stroke-width="1.1" stroke-dasharray="3.2 2.9"/>
<path d="M383.84 315.50h2.8l-1.4 -2.4z" fill="#000"/>
<rect x="383.49" y="304.60" width="3.50" height="7.50" fill="#fff" stroke="#000" stroke-width="1"/>
<line x1="383.49" y1="308.70" x2="386.99" y2="308.70" stroke="#000" stroke-width="2.0" />
<line x1="389.48" y1="302.90" x2="389.48" y2="301.00" stroke="#000" stroke-width="1.1" stroke-dasharray="3.2 2.9"/>
<path d="M388.08 298.80h2.8l-1.4 2.4z" fill="#000"/>
<line x1="389.48" y1="312.10" x2="389.48" y2="313.30" stroke="#000" stroke-width="1.1" stroke-dasharray="3.2 2.9"/>
<path d="M388.08 315.50h2.8l-1.4 -2.4z" fill="#000"/>
<rect x="387.73" y="302.90" width="3.50" height="9.20" fill="#fff" stroke="#000" stroke-width="1"/>
<line x1="387.73" y1="310.40" x2="391.23" y2="310.40" stroke="#000" stroke-width="2.0" />
<line x1="393.72" y1="303.50" x2="393.72" y2="301.00" stroke="#000" stroke-width="1.1" stroke-dasharray="3.2 2.9"/>
<path d="M392.32 298.80h2.8l-1.4 2.4z" fill="#000"/>
<line x1="393.72" y1="312.70" x2="393.72" y2="313.30" stroke="#000" stroke-width="1.1" stroke-dasharray="3.2 2.9"/>
<path d="M392.32 315.50h2.8l-1.4 -2.4z" fill="#000"/>
<rect x="391.97" y="303.50" width="3.50" height="9.20" fill="#fff" stroke="#000" stroke-width="1"/>
<line x1="391.97" y1="311.60" x2="395.47" y2="311.60" stroke="#000" stroke-width="2.0" />
<rect x="396.21" y="302.90" width="3.50" height="10.40" fill="#fff" stroke="#000" stroke-width="1"/>
<line x1="396.21" y1="310.40" x2="399.71" y2="310.40" stroke="#000" stroke-width="2.0" />
<line x1="402.20" y1="303.50" x2="402.20" y2="300.40" stroke="#000" stroke-width="1.1" stroke-dasharray="3.2 2.9"/>
<path d="M400.80 298.20h2.8l-1.4 2.4z" fill="#000"/>
<rect x="400.45" y="303.50" width="3.50" height="8.60" fill="#fff" stroke="#000" stroke-width="1"/>
<line x1="400.45" y1="310.40" x2="403.95" y2="310.40" stroke="#000" stroke-width="2.0" />
<line x1="406.44" y1="304.60" x2="406.44" y2="301.00" stroke="#000" stroke-width="1.1" stroke-dasharray="3.2 2.9"/>
<path d="M405.04 298.80h2.8l-1.4 2.4z" fill="#000"/>
<rect x="404.69" y="304.60" width="3.50" height="8.70" fill="#fff" stroke="#000" stroke-width="1"/>
<line x1="404.69" y1="311.60" x2="408.19" y2="311.60" stroke="#000" stroke-width="2.0" />
<line x1="410.68" y1="306.40" x2="410.68" y2="302.80" stroke="#000" stroke-width="1.1" stroke-dasharray="3.2 2.9"/>
<path d="M409.28 300.60h2.8l-1.4 2.4z" fill="#000"/>
<rect x="408.93" y="306.40" width="3.50" height="7.50" fill="#fff" stroke="#000" stroke-width="1"/>
<line x1="408.93" y1="312.10" x2="412.43" y2="312.10" stroke="#000" stroke-width="2.0" />
<rect x="413.17" y="306.20" width="3.50" height="8.10" fill="#fff" stroke="#000" stroke-width="1"/>
<line x1="413.17" y1="311.50" x2="416.67" y2="311.50" stroke="#000" stroke-width="2.0" />
<rect x="417.41" y="308.90" width="3.50" height="6.10" fill="#fff" stroke="#000" stroke-width="1"/>
<line x1="417.41" y1="312.50" x2="420.91" y2="312.50" stroke="#000" stroke-width="2.0" />
<rect x="421.65" y="310.20" width="3.50" height="4.80" fill="#fff" stroke="#000" stroke-width="1"/>
<line x1="421.65" y1="313.30" x2="425.15" y2="313.30" stroke="#000" stroke-width="2.0" />
<rect x="425.89" y="310.20" width="3.50" height="5.40" fill="#fff" stroke="#000" stroke-width="1"/>
<line x1="425.89" y1="313.90" x2="429.39" y2="313.90" stroke="#000" stroke-width="2.0" />
<rect x="430.13" y="310.90" width="3.50" height="4.70" fill="#fff" stroke="#000" stroke-width="1"/>
<line x1="430.13" y1="314.00" x2="433.63" y2="314.00" stroke="#000" stroke-width="2.0" />
<line x1="436.12" y1="310.90" x2="436.12" y2="310.50" stroke="#000" stroke-width="1.1" stroke-dasharray="3.2 2.9"/>
<path d="M434.72 308.30h2.8l-1.4 2.4z" fill="#000"/>
<rect x="434.37" y="310.90" width="3.50" height="4.70" fill="#fff" stroke="#000" stroke-width="1"/>
<line x1="434.37" y1="314.40" x2="437.87" y2="314.40" stroke="#000" stroke-width="2.0" />
<rect x="438.61" y="312.50" width="3.50" height="4.20" fill="#fff" stroke="#000" stroke-width="1"/>
<line x1="438.61" y1="314.80" x2="442.11" y2="314.80" stroke="#000" stroke-width="2.0" />
<rect x="442.85" y="312.50" width="3.50" height="4.20" fill="#fff" stroke="#000" stroke-width="1"/>
<line x1="442.85" y1="314.80" x2="446.35" y2="314.80" stroke="#000" stroke-width="2.0" />
<rect x="447.09" y="312.50" width="3.50" height="4.20" fill="#fff" stroke="#000" stroke-width="1"/>
<line x1="447.09" y1="314.80" x2="450.59" y2="314.80" stroke="#000" stroke-width="2.0" />
<rect x="451.33" y="312.50" width="3.50" height="4.20" fill="#fff" stroke="#000" stroke-width="1"/>
<line x1="451.33" y1="314.80" x2="454.83" y2="314.80" stroke="#000" stroke-width="2.0" />
<rect x="455.57" y="312.50" width="3.50" height="4.20" fill="#fff" stroke="#000" stroke-width="1"/>
<line x1="455.57" y1="314.80" x2="459.07" y2="314.80" stroke="#000" stroke-width="2.0" />
<rect x="459.81" y="312.50" width="3.50" height="4.20" fill="#fff" stroke="#000" stroke-width="1"/>
<line x1="459.81" y1="314.80" x2="463.31" y2="314.80" stroke="#000" stroke-width="2.0" />
<rect x="464.05" y="312.50" width="3.50" height="4.20" fill="#fff" stroke="#000" stroke-width="1"/>
<line x1="464.05" y1="314.80" x2="467.55" y2="314.80" stroke="#000" stroke-width="2.0" />
<rect x="468.29" y="312.50" width="3.50" height="4.20" fill="#fff" stroke="#000" stroke-width="1"/>
<line x1="468.29" y1="314.80" x2="471.79" y2="314.80" stroke="#000" stroke-width="2.0" />
<rect x="472.53" y="312.50" width="3.50" height="4.20" fill="#fff" stroke="#000" stroke-width="1"/>
<line x1="472.53" y1="314.80" x2="476.03" y2="314.80" stroke="#000" stroke-width="2.0" />
<rect x="476.77" y="312.50" width="3.50" height="4.20" fill="#fff" stroke="#000" stroke-width="1"/>
<line x1="476.77" y1="314.80" x2="480.27" y2="314.80" stroke="#000" stroke-width="2.0" />
<rect x="481.01" y="307.10" width="3.50" height="4.10" fill="#fff" stroke="#000" stroke-width="1"/>
<line x1="481.01" y1="309.80" x2="484.51" y2="309.80" stroke="#000" stroke-width="2.0" />
<line x1="487.00" y1="285.40" x2="487.00" y2="249.80" stroke="#000" stroke-width="1.1" stroke-dasharray="3.2 2.9"/>
<path d="M485.60 247.60h2.8l-1.4 2.4z" fill="#000"/>
<line x1="487.00" y1="302.40" x2="487.00" y2="310.90" stroke="#000" stroke-width="1.1" stroke-dasharray="3.2 2.9"/>
<path d="M485.60 313.10h2.8l-1.4 -2.4z" fill="#000"/>
<rect x="485.25" y="285.40" width="3.50" height="17.00" fill="#fff" stroke="#000" stroke-width="1"/>
<line x1="485.25" y1="301.40" x2="488.75" y2="301.40" stroke="#000" stroke-width="2.0" />
<line x1="491.24" y1="228.30" x2="491.24" y2="226.00" stroke="#000" stroke-width="1.1" stroke-dasharray="3.2 2.9"/>
<path d="M489.84 223.80h2.8l-1.4 2.4z" fill="#000"/>
<line x1="491.24" y1="294.90" x2="491.24" y2="311.60" stroke="#000" stroke-width="1.1" stroke-dasharray="3.2 2.9"/>
<path d="M489.84 313.80h2.8l-1.4 -2.4z" fill="#000"/>
<rect x="489.49" y="228.30" width="3.50" height="66.60" fill="#fff" stroke="#000" stroke-width="1"/>
<line x1="489.49" y1="293.50" x2="492.99" y2="293.50" stroke="#000" stroke-width="2.0" />
<line x1="495.48" y1="207.80" x2="495.48" y2="196.90" stroke="#000" stroke-width="1.1" stroke-dasharray="3.2 2.9"/>
<path d="M494.08 194.70h2.8l-1.4 2.4z" fill="#000"/>
<line x1="495.48" y1="292.00" x2="495.48" y2="309.00" stroke="#000" stroke-width="1.1" stroke-dasharray="3.2 2.9"/>
<path d="M494.08 311.20h2.8l-1.4 -2.4z" fill="#000"/>
<rect x="493.73" y="207.80" width="3.50" height="84.20" fill="#fff" stroke="#000" stroke-width="1"/>
<line x1="493.73" y1="283.20" x2="497.23" y2="283.20" stroke="#000" stroke-width="2.0" />
<line x1="499.72" y1="211.10" x2="499.72" y2="198.20" stroke="#000" stroke-width="1.1" stroke-dasharray="3.2 2.9"/>
<path d="M498.32 196.00h2.8l-1.4 2.4z" fill="#000"/>
<line x1="499.72" y1="296.30" x2="499.72" y2="309.00" stroke="#000" stroke-width="1.1" stroke-dasharray="3.2 2.9"/>
<path d="M498.32 311.20h2.8l-1.4 -2.4z" fill="#000"/>
<rect x="497.97" y="211.10" width="3.50" height="85.20" fill="#fff" stroke="#000" stroke-width="1"/>
<line x1="497.97" y1="282.50" x2="501.47" y2="282.50" stroke="#000" stroke-width="2.0" />
<line x1="503.96" y1="235.60" x2="503.96" y2="187.00" stroke="#000" stroke-width="1.1" stroke-dasharray="3.2 2.9"/>
<path d="M502.56 184.80h2.8l-1.4 2.4z" fill="#000"/>
<line x1="503.96" y1="286.50" x2="503.96" y2="304.00" stroke="#000" stroke-width="1.1" stroke-dasharray="3.2 2.9"/>
<path d="M502.56 306.20h2.8l-1.4 -2.4z" fill="#000"/>
<rect x="502.21" y="235.60" width="3.50" height="50.90" fill="#fff" stroke="#000" stroke-width="1"/>
<line x1="502.21" y1="283.00" x2="505.71" y2="283.00" stroke="#000" stroke-width="2.0" />
<line x1="508.20" y1="254.10" x2="508.20" y2="237.30" stroke="#000" stroke-width="1.1" stroke-dasharray="3.2 2.9"/>
<path d="M506.80 235.10h2.8l-1.4 2.4z" fill="#000"/>
<line x1="508.20" y1="289.20" x2="508.20" y2="297.00" stroke="#000" stroke-width="1.1" stroke-dasharray="3.2 2.9"/>
<path d="M506.80 299.20h2.8l-1.4 -2.4z" fill="#000"/>
<rect x="506.45" y="254.10" width="3.50" height="35.10" fill="#fff" stroke="#000" stroke-width="1"/>
<line x1="506.45" y1="283.00" x2="509.95" y2="283.00" stroke="#000" stroke-width="2.0" />
<line x1="512.44" y1="271.10" x2="512.44" y2="263.00" stroke="#000" stroke-width="1.1" stroke-dasharray="3.2 2.9"/>
<path d="M511.04 260.80h2.8l-1.4 2.4z" fill="#000"/>
<line x1="512.44" y1="284.00" x2="512.44" y2="294.00" stroke="#000" stroke-width="1.1" stroke-dasharray="3.2 2.9"/>
<path d="M511.04 296.20h2.8l-1.4 -2.4z" fill="#000"/>
<rect x="510.69" y="271.10" width="3.50" height="12.90" fill="#fff" stroke="#000" stroke-width="1"/>
<line x1="510.69" y1="280.60" x2="514.19" y2="280.60" stroke="#000" stroke-width="2.0" />
<line x1="373.50" y1="303.75" x2="519.00" y2="303.75" stroke="#c8c8c8" stroke-width="1.5" />
<line x1="397.96" y1="185.55" x2="397.96" y2="322.75" stroke="#c8c8c8" stroke-width="1.5" />
<line x1="373.50" y1="254.40" x2="519.00" y2="254.40" stroke="#000" stroke-width="1.3" stroke-dasharray="3.4 2.68" stroke-dashoffset="1.0"/>
<line x1="373.50" y1="296.70" x2="519.00" y2="296.70" stroke="#000" stroke-width="1.3" stroke-dasharray="3.4 2.68" stroke-dashoffset="1.0"/>
<rect x="373.50" y="185.55" width="145.50" height="137.20" fill="none" stroke="#000" stroke-width="1.4"/>
<text x="388.85" y="198.65" font-size="14.6" font-weight="bold" text-anchor="middle" fill="#000" >F</text>
<line x1="381.00" y1="322.75" x2="381.00" y2="327.05" stroke="#000" stroke-width="1.2" />
<text x="381.00" y="335.35" font-size="9.0" font-weight="normal" text-anchor="middle" fill="#000" >≤-4</text>
<line x1="385.24" y1="322.75" x2="385.24" y2="325.05" stroke="#000" stroke-width="1.2" />
<line x1="389.48" y1="322.75" x2="389.48" y2="325.05" stroke="#000" stroke-width="1.2" />
<line x1="393.72" y1="322.75" x2="393.72" y2="325.05" stroke="#000" stroke-width="1.2" />
<line x1="397.96" y1="322.75" x2="397.96" y2="327.05" stroke="#000" stroke-width="1.2" />
<text x="397.96" y="335.35" font-size="9.0" font-weight="normal" text-anchor="middle" fill="#000" >1</text>
<line x1="402.20" y1="322.75" x2="402.20" y2="325.05" stroke="#000" stroke-width="1.2" />
<line x1="406.44" y1="322.75" x2="406.44" y2="325.05" stroke="#000" stroke-width="1.2" />
<line x1="410.68" y1="322.75" x2="410.68" y2="325.05" stroke="#000" stroke-width="1.2" />
<line x1="414.92" y1="322.75" x2="414.92" y2="327.05" stroke="#000" stroke-width="1.2" />
<text x="414.92" y="335.35" font-size="9.0" font-weight="normal" text-anchor="middle" fill="#000" >5</text>
<line x1="419.16" y1="322.75" x2="419.16" y2="325.05" stroke="#000" stroke-width="1.2" />
<line x1="423.40" y1="322.75" x2="423.40" y2="325.05" stroke="#000" stroke-width="1.2" />
<line x1="427.64" y1="322.75" x2="427.64" y2="325.05" stroke="#000" stroke-width="1.2" />
<line x1="431.88" y1="322.75" x2="431.88" y2="325.05" stroke="#000" stroke-width="1.2" />
<line x1="436.12" y1="322.75" x2="436.12" y2="327.05" stroke="#000" stroke-width="1.2" />
<text x="436.12" y="335.35" font-size="9.0" font-weight="normal" text-anchor="middle" fill="#000" >10</text>
<line x1="440.36" y1="322.75" x2="440.36" y2="325.05" stroke="#000" stroke-width="1.2" />
<line x1="444.60" y1="322.75" x2="444.60" y2="325.05" stroke="#000" stroke-width="1.2" />
<line x1="448.84" y1="322.75" x2="448.84" y2="325.05" stroke="#000" stroke-width="1.2" />
<line x1="453.08" y1="322.75" x2="453.08" y2="325.05" stroke="#000" stroke-width="1.2" />
<line x1="457.32" y1="322.75" x2="457.32" y2="327.05" stroke="#000" stroke-width="1.2" />
<text x="457.32" y="335.35" font-size="9.0" font-weight="normal" text-anchor="middle" fill="#000" >15</text>
<line x1="461.56" y1="322.75" x2="461.56" y2="325.05" stroke="#000" stroke-width="1.2" />
<line x1="465.80" y1="322.75" x2="465.80" y2="325.05" stroke="#000" stroke-width="1.2" />
<line x1="470.04" y1="322.75" x2="470.04" y2="325.05" stroke="#000" stroke-width="1.2" />
<line x1="474.28" y1="322.75" x2="474.28" y2="325.05" stroke="#000" stroke-width="1.2" />
<line x1="478.52" y1="322.75" x2="478.52" y2="327.05" stroke="#000" stroke-width="1.2" />
<text x="478.52" y="335.35" font-size="9.0" font-weight="normal" text-anchor="middle" fill="#000" >20</text>
<line x1="482.76" y1="322.75" x2="482.76" y2="325.05" stroke="#000" stroke-width="1.2" />
<line x1="487.00" y1="322.75" x2="487.00" y2="325.05" stroke="#000" stroke-width="1.2" />
<line x1="491.24" y1="322.75" x2="491.24" y2="327.05" stroke="#000" stroke-width="1.2" />
<text x="491.24" y="335.35" font-size="9.0" font-weight="normal" text-anchor="middle" fill="#000" >24</text>
<line x1="495.48" y1="322.75" x2="495.48" y2="325.05" stroke="#000" stroke-width="1.2" />
<line x1="499.72" y1="322.75" x2="499.72" y2="325.05" stroke="#000" stroke-width="1.2" />
<line x1="503.96" y1="322.75" x2="503.96" y2="327.05" stroke="#000" stroke-width="1.2" />
<text x="503.96" y="335.35" font-size="9.0" font-weight="normal" text-anchor="middle" fill="#000" >30</text>
<line x1="508.20" y1="322.75" x2="508.20" y2="325.05" stroke="#000" stroke-width="1.2" />
<line x1="512.44" y1="322.75" x2="512.44" y2="327.05" stroke="#000" stroke-width="1.2" />
<text x="512.44" y="335.35" font-size="9.0" font-weight="normal" text-anchor="middle" fill="#000" >40</text>
<line x1="369.30" y1="317.85" x2="373.50" y2="317.85" stroke="#000" stroke-width="1.2" />
<text x="366.00" y="317.85" font-size="9.0" font-weight="normal" text-anchor="middle" fill="#000" transform="rotate(-90 366.00 317.85)" >0</text>
<line x1="369.30" y1="289.65" x2="373.50" y2="289.65" stroke="#000" stroke-width="1.2" />
<text x="366.00" y="289.65" font-size="9.0" font-weight="normal" text-anchor="middle" fill="#000" transform="rotate(-90 366.00 289.65)" >200</text>
<line x1="369.30" y1="261.45" x2="373.50" y2="261.45" stroke="#000" stroke-width="1.2" />
<text x="366.00" y="261.45" font-size="9.0" font-weight="normal" text-anchor="middle" fill="#000" transform="rotate(-90 366.00 261.45)" >400</text>
<line x1="369.30" y1="233.25" x2="373.50" y2="233.25" stroke="#000" stroke-width="1.2" />
<text x="366.00" y="233.25" font-size="9.0" font-weight="normal" text-anchor="middle" fill="#000" transform="rotate(-90 366.00 233.25)" >600</text>
<line x1="369.30" y1="205.05" x2="373.50" y2="205.05" stroke="#000" stroke-width="1.2" />
<text x="366.00" y="205.05" font-size="9.0" font-weight="normal" text-anchor="middle" fill="#000" transform="rotate(-90 366.00 205.05)" >800</text>
<text x="9.40" y="256.55" font-size="12.7" font-weight="bold" text-anchor="middle" fill="#000" transform="rotate(-90 9.40 256.55)" >Level 2</text>
<line x1="37.50" y1="397.90" x2="37.50" y2="387.00" stroke="#000" stroke-width="1.1" stroke-dasharray="3.2 2.9"/>
<path d="M36.10 384.80h2.8l-1.4 2.4z" fill="#000"/>
<line x1="37.50" y1="437.60" x2="37.50" y2="442.80" stroke="#000" stroke-width="1.1" stroke-dasharray="3.2 2.9"/>
<path d="M36.10 445.00h2.8l-1.4 -2.4z" fill="#000"/>
<rect x="35.75" y="397.90" width="3.50" height="39.70" fill="#fff" stroke="#000" stroke-width="1"/>
<line x1="35.75" y1="412.00" x2="39.25" y2="412.00" stroke="#000" stroke-width="2.0" />
<line x1="41.74" y1="410.40" x2="41.74" y2="406.50" stroke="#000" stroke-width="1.1" stroke-dasharray="3.2 2.9"/>
<path d="M40.34 404.30h2.8l-1.4 2.4z" fill="#000"/>
<line x1="41.74" y1="435.60" x2="41.74" y2="441.90" stroke="#000" stroke-width="1.1" stroke-dasharray="3.2 2.9"/>
<path d="M40.34 444.10h2.8l-1.4 -2.4z" fill="#000"/>
<rect x="39.99" y="410.40" width="3.50" height="25.20" fill="#fff" stroke="#000" stroke-width="1"/>
<line x1="39.99" y1="432.50" x2="43.49" y2="432.50" stroke="#000" stroke-width="2.0" />
<line x1="45.98" y1="411.20" x2="45.98" y2="406.50" stroke="#000" stroke-width="1.1" stroke-dasharray="3.2 2.9"/>
<path d="M44.58 404.30h2.8l-1.4 2.4z" fill="#000"/>
<rect x="44.23" y="411.20" width="3.50" height="28.80" fill="#fff" stroke="#000" stroke-width="1"/>
<line x1="44.23" y1="435.50" x2="47.73" y2="435.50" stroke="#000" stroke-width="2.0" />
<line x1="50.22" y1="416.40" x2="50.22" y2="406.50" stroke="#000" stroke-width="1.1" stroke-dasharray="3.2 2.9"/>
<path d="M48.82 404.30h2.8l-1.4 2.4z" fill="#000"/>
<rect x="48.47" y="416.40" width="3.50" height="22.10" fill="#fff" stroke="#000" stroke-width="1"/>
<line x1="48.47" y1="435.20" x2="51.97" y2="435.20" stroke="#000" stroke-width="2.0" />
<rect x="52.71" y="418.00" width="3.50" height="24.60" fill="#fff" stroke="#000" stroke-width="1"/>
<line x1="52.71" y1="433.00" x2="56.21" y2="433.00" stroke="#000" stroke-width="2.0" />
<line x1="58.70" y1="430.40" x2="58.70" y2="421.70" stroke="#000" stroke-width="1.1" stroke-dasharray="3.2 2.9"/>
<path d="M57.30 419.50h2.8l-1.4 2.4z" fill="#000"/>
<rect x="56.95" y="430.40" width="3.50" height="25.90" fill="#fff" stroke="#000" stroke-width="1"/>
<line x1="56.95" y1="444.00" x2="60.45" y2="444.00" stroke="#000" stroke-width="2.0" />
<line x1="62.94" y1="444.50" x2="62.94" y2="441.80" stroke="#000" stroke-width="1.1" stroke-dasharray="3.2 2.9"/>
<path d="M61.54 439.60h2.8l-1.4 2.4z" fill="#000"/>
<line x1="62.94" y1="455.50" x2="62.94" y2="461.00" stroke="#000" stroke-width="1.1" stroke-dasharray="3.2 2.9"/>
<path d="M61.54 463.20h2.8l-1.4 -2.4z" fill="#000"/>
<rect x="61.19" y="444.50" width="3.50" height="11.00" fill="#fff" stroke="#000" stroke-width="1"/>
<line x1="61.19" y1="452.00" x2="64.69" y2="452.00" stroke="#000" stroke-width="2.0" />
<line x1="67.18" y1="445.90" x2="67.18" y2="444.30" stroke="#000" stroke-width="1.1" stroke-dasharray="3.2 2.9"/>
<path d="M65.78 442.10h2.8l-1.4 2.4z" fill="#000"/>
<line x1="67.18" y1="456.80" x2="67.18" y2="470.00" stroke="#000" stroke-width="1.1" stroke-dasharray="3.2 2.9"/>
<path d="M65.78 472.20h2.8l-1.4 -2.4z" fill="#000"/>
<rect x="65.43" y="445.90" width="3.50" height="10.90" fill="#fff" stroke="#000" stroke-width="1"/>
<line x1="65.43" y1="452.00" x2="68.93" y2="452.00" stroke="#000" stroke-width="2.0" />
<line x1="71.42" y1="445.30" x2="71.42" y2="442.80" stroke="#000" stroke-width="1.1" stroke-dasharray="3.2 2.9"/>
<path d="M70.02 440.60h2.8l-1.4 2.4z" fill="#000"/>
<line x1="71.42" y1="460.00" x2="71.42" y2="463.30" stroke="#000" stroke-width="1.1" stroke-dasharray="3.2 2.9"/>
<path d="M70.02 465.50h2.8l-1.4 -2.4z" fill="#000"/>
<rect x="69.67" y="445.30" width="3.50" height="14.70" fill="#fff" stroke="#000" stroke-width="1"/>
<line x1="69.67" y1="453.00" x2="73.17" y2="453.00" stroke="#000" stroke-width="2.0" />
<line x1="75.66" y1="452.00" x2="75.66" y2="449.60" stroke="#000" stroke-width="1.1" stroke-dasharray="3.2 2.9"/>
<path d="M74.26 447.40h2.8l-1.4 2.4z" fill="#000"/>
<line x1="75.66" y1="459.00" x2="75.66" y2="471.50" stroke="#000" stroke-width="1.1" stroke-dasharray="3.2 2.9"/>
<path d="M74.26 473.70h2.8l-1.4 -2.4z" fill="#000"/>
<rect x="73.91" y="452.00" width="3.50" height="7.00" fill="#fff" stroke="#000" stroke-width="1"/>
<line x1="73.91" y1="455.50" x2="77.41" y2="455.50" stroke="#000" stroke-width="2.0" />
<line x1="79.90" y1="452.00" x2="79.90" y2="449.60" stroke="#000" stroke-width="1.1" stroke-dasharray="3.2 2.9"/>
<path d="M78.50 447.40h2.8l-1.4 2.4z" fill="#000"/>
<line x1="79.90" y1="470.40" x2="79.90" y2="475.50" stroke="#000" stroke-width="1.1" stroke-dasharray="3.2 2.9"/>
<path d="M78.50 477.70h2.8l-1.4 -2.4z" fill="#000"/>
<rect x="78.15" y="452.00" width="3.50" height="18.40" fill="#fff" stroke="#000" stroke-width="1"/>
<line x1="78.15" y1="459.50" x2="81.65" y2="459.50" stroke="#000" stroke-width="2.0" />
<line x1="84.14" y1="459.50" x2="84.14" y2="457.80" stroke="#000" stroke-width="1.1" stroke-dasharray="3.2 2.9"/>
<path d="M82.74 455.60h2.8l-1.4 2.4z" fill="#000"/>
<line x1="84.14" y1="469.00" x2="84.14" y2="475.50" stroke="#000" stroke-width="1.1" stroke-dasharray="3.2 2.9"/>
<path d="M82.74 477.70h2.8l-1.4 -2.4z" fill="#000"/>
<rect x="82.39" y="459.50" width="3.50" height="9.50" fill="#fff" stroke="#000" stroke-width="1"/>
<line x1="82.39" y1="467.50" x2="85.89" y2="467.50" stroke="#000" stroke-width="2.0" />
<line x1="88.38" y1="459.50" x2="88.38" y2="457.80" stroke="#000" stroke-width="1.1" stroke-dasharray="3.2 2.9"/>
<path d="M86.98 455.60h2.8l-1.4 2.4z" fill="#000"/>
<rect x="86.63" y="459.50" width="3.50" height="17.70" fill="#fff" stroke="#000" stroke-width="1"/>
<line x1="86.63" y1="461.50" x2="90.13" y2="461.50" stroke="#000" stroke-width="2.0" />
<line x1="92.62" y1="456.80" x2="92.62" y2="453.70" stroke="#000" stroke-width="1.1" stroke-dasharray="3.2 2.9"/>
<path d="M91.22 451.50h2.8l-1.4 2.4z" fill="#000"/>
<line x1="92.62" y1="477.20" x2="92.62" y2="487.10" stroke="#000" stroke-width="1.1" stroke-dasharray="3.2 2.9"/>
<path d="M91.22 489.30h2.8l-1.4 -2.4z" fill="#000"/>
<rect x="90.87" y="456.80" width="3.50" height="20.40" fill="#fff" stroke="#000" stroke-width="1"/>
<line x1="90.87" y1="464.30" x2="94.37" y2="464.30" stroke="#000" stroke-width="2.0" />
<line x1="96.86" y1="456.80" x2="96.86" y2="453.70" stroke="#000" stroke-width="1.1" stroke-dasharray="3.2 2.9"/>
<path d="M95.46 451.50h2.8l-1.4 2.4z" fill="#000"/>
<rect x="95.11" y="456.80" width="3.50" height="20.40" fill="#fff" stroke="#000" stroke-width="1"/>
<line x1="95.11" y1="466.00" x2="98.61" y2="466.00" stroke="#000" stroke-width="2.0" />
<line x1="101.10" y1="459.50" x2="101.10" y2="456.40" stroke="#000" stroke-width="1.1" stroke-dasharray="3.2 2.9"/>
<path d="M99.70 454.20h2.8l-1.4 2.4z" fill="#000"/>
<rect x="99.35" y="459.50" width="3.50" height="13.00" fill="#fff" stroke="#000" stroke-width="1"/>
<line x1="99.35" y1="460.90" x2="102.85" y2="460.90" stroke="#000" stroke-width="2.0" />
<line x1="105.34" y1="459.50" x2="105.34" y2="457.80" stroke="#000" stroke-width="1.1" stroke-dasharray="3.2 2.9"/>
<path d="M103.94 455.60h2.8l-1.4 2.4z" fill="#000"/>
<line x1="105.34" y1="471.80" x2="105.34" y2="474.90" stroke="#000" stroke-width="1.1" stroke-dasharray="3.2 2.9"/>
<path d="M103.94 477.10h2.8l-1.4 -2.4z" fill="#000"/>
<rect x="103.59" y="459.50" width="3.50" height="12.30" fill="#fff" stroke="#000" stroke-width="1"/>
<line x1="103.59" y1="461.00" x2="107.09" y2="461.00" stroke="#000" stroke-width="2.0" />
<line x1="109.58" y1="458.80" x2="109.58" y2="455.70" stroke="#000" stroke-width="1.1" stroke-dasharray="3.2 2.9"/>
<path d="M108.18 453.50h2.8l-1.4 2.4z" fill="#000"/>
<line x1="109.58" y1="470.40" x2="109.58" y2="474.90" stroke="#000" stroke-width="1.1" stroke-dasharray="3.2 2.9"/>
<path d="M108.18 477.10h2.8l-1.4 -2.4z" fill="#000"/>
<rect x="107.83" y="458.80" width="3.50" height="11.60" fill="#fff" stroke="#000" stroke-width="1"/>
<line x1="107.83" y1="467.00" x2="111.33" y2="467.00" stroke="#000" stroke-width="2.0" />
<line x1="113.82" y1="459.70" x2="113.82" y2="454.00" stroke="#000" stroke-width="1.1" stroke-dasharray="3.2 2.9"/>
<path d="M112.42 451.80h2.8l-1.4 2.4z" fill="#000"/>
<line x1="113.82" y1="470.50" x2="113.82" y2="485.80" stroke="#000" stroke-width="1.1" stroke-dasharray="3.2 2.9"/>
<path d="M112.42 488.00h2.8l-1.4 -2.4z" fill="#000"/>
<rect x="112.07" y="459.70" width="3.50" height="10.80" fill="#fff" stroke="#000" stroke-width="1"/>
<line x1="112.07" y1="466.00" x2="115.57" y2="466.00" stroke="#000" stroke-width="2.0" />
<line x1="118.06" y1="457.00" x2="118.06" y2="454.20" stroke="#000" stroke-width="1.1" stroke-dasharray="3.2 2.9"/>
<path d="M116.66 452.00h2.8l-1.4 2.4z" fill="#000"/>
<line x1="118.06" y1="470.50" x2="118.06" y2="474.90" stroke="#000" stroke-width="1.1" stroke-dasharray="3.2 2.9"/>
<path d="M116.66 477.10h2.8l-1.4 -2.4z" fill="#000"/>
<rect x="116.31" y="457.00" width="3.50" height="13.50" fill="#fff" stroke="#000" stroke-width="1"/>
<line x1="116.31" y1="466.00" x2="119.81" y2="466.00" stroke="#000" stroke-width="2.0" />
<line x1="122.30" y1="457.00" x2="122.30" y2="449.30" stroke="#000" stroke-width="1.1" stroke-dasharray="3.2 2.9"/>
<path d="M120.90 447.10h2.8l-1.4 2.4z" fill="#000"/>
<line x1="122.30" y1="470.50" x2="122.30" y2="472.10" stroke="#000" stroke-width="1.1" stroke-dasharray="3.2 2.9"/>
<path d="M120.90 474.30h2.8l-1.4 -2.4z" fill="#000"/>
<rect x="120.55" y="457.00" width="3.50" height="13.50" fill="#fff" stroke="#000" stroke-width="1"/>
<line x1="120.55" y1="466.00" x2="124.05" y2="466.00" stroke="#000" stroke-width="2.0" />
<rect x="124.79" y="453.00" width="3.50" height="10.50" fill="#fff" stroke="#000" stroke-width="1"/>
<line x1="124.79" y1="459.50" x2="128.29" y2="459.50" stroke="#000" stroke-width="2.0" />
<line x1="130.78" y1="452.00" x2="130.78" y2="447.40" stroke="#000" stroke-width="1.1" stroke-dasharray="3.2 2.9"/>
<path d="M129.38 445.20h2.8l-1.4 2.4z" fill="#000"/>
<rect x="129.03" y="452.00" width="3.50" height="9.60" fill="#fff" stroke="#000" stroke-width="1"/>
<line x1="129.03" y1="455.50" x2="132.53" y2="455.50" stroke="#000" stroke-width="2.0" />
<line x1="135.02" y1="445.50" x2="135.02" y2="440.50" stroke="#000" stroke-width="1.1" stroke-dasharray="3.2 2.9"/>
<path d="M133.62 438.30h2.8l-1.4 2.4z" fill="#000"/>
<line x1="135.02" y1="456.50" x2="135.02" y2="468.10" stroke="#000" stroke-width="1.1" stroke-dasharray="3.2 2.9"/>
<path d="M133.62 470.30h2.8l-1.4 -2.4z" fill="#000"/>
<rect x="133.27" y="445.50" width="3.50" height="11.00" fill="#fff" stroke="#000" stroke-width="1"/>
<line x1="133.27" y1="452.50" x2="136.77" y2="452.50" stroke="#000" stroke-width="2.0" />
<line x1="139.26" y1="436.50" x2="139.26" y2="434.60" stroke="#000" stroke-width="1.1" stroke-dasharray="3.2 2.9"/>
<path d="M137.86 432.40h2.8l-1.4 2.4z" fill="#000"/>
<line x1="139.26" y1="453.50" x2="139.26" y2="463.60" stroke="#000" stroke-width="1.1" stroke-dasharray="3.2 2.9"/>
<path d="M137.86 465.80h2.8l-1.4 -2.4z" fill="#000"/>
<rect x="137.51" y="436.50" width="3.50" height="17.00" fill="#fff" stroke="#000" stroke-width="1"/>
<line x1="137.51" y1="451.50" x2="141.01" y2="451.50" stroke="#000" stroke-width="2.0" />
<line x1="143.50" y1="433.30" x2="143.50" y2="428.50" stroke="#000" stroke-width="1.1" stroke-dasharray="3.2 2.9"/>
<path d="M142.10 426.30h2.8l-1.4 2.4z" fill="#000"/>
<line x1="143.50" y1="448.50" x2="143.50" y2="460.60" stroke="#000" stroke-width="1.1" stroke-dasharray="3.2 2.9"/>
<path d="M142.10 462.80h2.8l-1.4 -2.4z" fill="#000"/>
<rect x="141.75" y="433.30" width="3.50" height="15.20" fill="#fff" stroke="#000" stroke-width="1"/>
<line x1="141.75" y1="443.50" x2="145.25" y2="443.50" stroke="#000" stroke-width="2.0" />
<line x1="147.74" y1="423.50" x2="147.74" y2="418.70" stroke="#000" stroke-width="1.1" stroke-dasharray="3.2 2.9"/>
<path d="M146.34 416.50h2.8l-1.4 2.4z" fill="#000"/>
<line x1="147.74" y1="440.00" x2="147.74" y2="457.50" stroke="#000" stroke-width="1.1" stroke-dasharray="3.2 2.9"/>
<path d="M146.34 459.70h2.8l-1.4 -2.4z" fill="#000"/>
<rect x="145.99" y="423.50" width="3.50" height="16.50" fill="#fff" stroke="#000" stroke-width="1"/>
<line x1="145.99" y1="433.50" x2="149.49" y2="433.50" stroke="#000" stroke-width="2.0" />
<line x1="151.98" y1="421.70" x2="151.98" y2="418.70" stroke="#000" stroke-width="1.1" stroke-dasharray="3.2 2.9"/>
<path d="M150.58 416.50h2.8l-1.4 2.4z" fill="#000"/>
<line x1="151.98" y1="435.00" x2="151.98" y2="455.30" stroke="#000" stroke-width="1.1" stroke-dasharray="3.2 2.9"/>
<path d="M150.58 457.50h2.8l-1.4 -2.4z" fill="#000"/>
<rect x="150.23" y="421.70" width="3.50" height="13.30" fill="#fff" stroke="#000" stroke-width="1"/>
<line x1="150.23" y1="430.00" x2="153.73" y2="430.00" stroke="#000" stroke-width="2.0" />
<line x1="156.22" y1="422.20" x2="156.22" y2="419.40" stroke="#000" stroke-width="1.1" stroke-dasharray="3.2 2.9"/>
<path d="M154.82 417.20h2.8l-1.4 2.4z" fill="#000"/>
<line x1="156.22" y1="435.50" x2="156.22" y2="450.70" stroke="#000" stroke-width="1.1" stroke-dasharray="3.2 2.9"/>
<path d="M154.82 452.90h2.8l-1.4 -2.4z" fill="#000"/>
<rect x="154.47" y="422.20" width="3.50" height="13.30" fill="#fff" stroke="#000" stroke-width="1"/>
<line x1="154.47" y1="424.50" x2="157.97" y2="424.50" stroke="#000" stroke-width="2.0" />
<line x1="160.46" y1="422.00" x2="160.46" y2="419.00" stroke="#000" stroke-width="1.1" stroke-dasharray="3.2 2.9"/>
<path d="M159.06 416.80h2.8l-1.4 2.4z" fill="#000"/>
<rect x="158.71" y="422.00" width="3.50" height="24.30" fill="#fff" stroke="#000" stroke-width="1"/>
<line x1="158.71" y1="426.50" x2="162.21" y2="426.50" stroke="#000" stroke-width="2.0" />
<line x1="164.70" y1="410.10" x2="164.70" y2="408.10" stroke="#000" stroke-width="1.1" stroke-dasharray="3.2 2.9"/>
<path d="M163.30 405.90h2.8l-1.4 2.4z" fill="#000"/>
<rect x="162.95" y="410.10" width="3.50" height="22.40" fill="#fff" stroke="#000" stroke-width="1"/>
<line x1="162.95" y1="413.30" x2="166.45" y2="413.30" stroke="#000" stroke-width="2.0" />
<line x1="168.94" y1="419.40" x2="168.94" y2="418.00" stroke="#000" stroke-width="1.1" stroke-dasharray="3.2 2.9"/>
<path d="M167.54 415.80h2.8l-1.4 2.4z" fill="#000"/>
<rect x="167.19" y="419.40" width="3.50" height="10.00" fill="#fff" stroke="#000" stroke-width="1"/>
<line x1="167.19" y1="425.00" x2="170.69" y2="425.00" stroke="#000" stroke-width="2.0" />
<line x1="30.00" y1="450.95" x2="176.25" y2="450.95" stroke="#c8c8c8" stroke-width="1.5" />
<line x1="54.46" y1="357.10" x2="54.46" y2="494.25" stroke="#c8c8c8" stroke-width="1.5" />
<line x1="30.00" y1="410.41" x2="176.25" y2="410.41" stroke="#000" stroke-width="1.3" stroke-dasharray="3.4 2.68" stroke-dashoffset="1.0"/>
<line x1="30.00" y1="430.29" x2="176.25" y2="430.29" stroke="#000" stroke-width="1.3" stroke-dasharray="3.4 2.68" stroke-dashoffset="1.0"/>
<rect x="30.00" y="357.10" width="146.25" height="137.15" fill="none" stroke="#000" stroke-width="1.4"/>
<text x="45.35" y="370.20" font-size="14.6" font-weight="bold" text-anchor="middle" fill="#000" >G</text>
<line x1="37.50" y1="494.25" x2="37.50" y2="498.55" stroke="#000" stroke-width="1.2" />
<text x="37.50" y="506.85" font-size="9.0" font-weight="normal" text-anchor="middle" fill="#000" >≤-4</text>
<line x1="41.74" y1="494.25" x2="41.74" y2="496.55" stroke="#000" stroke-width="1.2" />
<line x1="45.98" y1="494.25" x2="45.98" y2="496.55" stroke="#000" stroke-width="1.2" />
<line x1="50.22" y1="494.25" x2="50.22" y2="496.55" stroke="#000" stroke-width="1.2" />
<line x1="54.46" y1="494.25" x2="54.46" y2="498.55" stroke="#000" stroke-width="1.2" />
<text x="54.46" y="506.85" font-size="9.0" font-weight="normal" text-anchor="middle" fill="#000" >1</text>
<line x1="58.70" y1="494.25" x2="58.70" y2="496.55" stroke="#000" stroke-width="1.2" />
<line x1="62.94" y1="494.25" x2="62.94" y2="496.55" stroke="#000" stroke-width="1.2" />
<line x1="67.18" y1="494.25" x2="67.18" y2="496.55" stroke="#000" stroke-width="1.2" />
<line x1="71.42" y1="494.25" x2="71.42" y2="498.55" stroke="#000" stroke-width="1.2" />
<text x="71.42" y="506.85" font-size="9.0" font-weight="normal" text-anchor="middle" fill="#000" >5</text>
<line x1="75.66" y1="494.25" x2="75.66" y2="496.55" stroke="#000" stroke-width="1.2" />
<line x1="79.90" y1="494.25" x2="79.90" y2="496.55" stroke="#000" stroke-width="1.2" />
<line x1="84.14" y1="494.25" x2="84.14" y2="496.55" stroke="#000" stroke-width="1.2" />
<line x1="88.38" y1="494.25" x2="88.38" y2="496.55" stroke="#000" stroke-width="1.2" />
<line x1="92.62" y1="494.25" x2="92.62" y2="498.55" stroke="#000" stroke-width="1.2" />
<text x="92.62" y="506.85" font-size="9.0" font-weight="normal" text-anchor="middle" fill="#000" >10</text>
<line x1="96.86" y1="494.25" x2="96.86" y2="496.55" stroke="#000" stroke-width="1.2" />
<line x1="101.10" y1="494.25" x2="101.10" y2="496.55" stroke="#000" stroke-width="1.2" />
<line x1="105.34" y1="494.25" x2="105.34" y2="496.55" stroke="#000" stroke-width="1.2" />
<line x1="109.58" y1="494.25" x2="109.58" y2="496.55" stroke="#000" stroke-width="1.2" />
<line x1="113.82" y1="494.25" x2="113.82" y2="498.55" stroke="#000" stroke-width="1.2" />
<text x="113.82" y="506.85" font-size="9.0" font-weight="normal" text-anchor="middle" fill="#000" >15</text>
<line x1="118.06" y1="494.25" x2="118.06" y2="496.55" stroke="#000" stroke-width="1.2" />
<line x1="122.30" y1="494.25" x2="122.30" y2="496.55" stroke="#000" stroke-width="1.2" />
<line x1="126.54" y1="494.25" x2="126.54" y2="496.55" stroke="#000" stroke-width="1.2" />
<line x1="130.78" y1="494.25" x2="130.78" y2="496.55" stroke="#000" stroke-width="1.2" />
<line x1="135.02" y1="494.25" x2="135.02" y2="498.55" stroke="#000" stroke-width="1.2" />
<text x="135.02" y="506.85" font-size="9.0" font-weight="normal" text-anchor="middle" fill="#000" >20</text>
<line x1="139.26" y1="494.25" x2="139.26" y2="496.55" stroke="#000" stroke-width="1.2" />
<line x1="143.50" y1="494.25" x2="143.50" y2="496.55" stroke="#000" stroke-width="1.2" />
<line x1="147.74" y1="494.25" x2="147.74" y2="498.55" stroke="#000" stroke-width="1.2" />
<text x="147.74" y="506.85" font-size="9.0" font-weight="normal" text-anchor="middle" fill="#000" >24</text>
<line x1="151.98" y1="494.25" x2="151.98" y2="496.55" stroke="#000" stroke-width="1.2" />
<line x1="156.22" y1="494.25" x2="156.22" y2="496.55" stroke="#000" stroke-width="1.2" />
<line x1="160.46" y1="494.25" x2="160.46" y2="498.55" stroke="#000" stroke-width="1.2" />
<text x="160.46" y="506.85" font-size="9.0" font-weight="normal" text-anchor="middle" fill="#000" >30</text>
<line x1="164.70" y1="494.25" x2="164.70" y2="496.55" stroke="#000" stroke-width="1.2" />
<line x1="168.94" y1="494.25" x2="168.94" y2="498.55" stroke="#000" stroke-width="1.2" />
<text x="168.94" y="506.85" font-size="9.0" font-weight="normal" text-anchor="middle" fill="#000" >40</text>
<line x1="25.80" y1="489.45" x2="30.00" y2="489.45" stroke="#000" stroke-width="1.2" />
<text x="22.50" y="489.45" font-size="9.0" font-weight="normal" text-anchor="middle" fill="#000" transform="rotate(-90 22.50 489.45)" >0.1</text>
<line x1="25.80" y1="462.54" x2="30.00" y2="462.54" stroke="#000" stroke-width="1.2" />
<text x="22.50" y="462.54" font-size="9.0" font-weight="normal" text-anchor="middle" fill="#000" transform="rotate(-90 22.50 462.54)" >0.5</text>
<line x1="25.80" y1="450.95" x2="30.00" y2="450.95" stroke="#000" stroke-width="1.2" />
<line x1="25.80" y1="424.04" x2="30.00" y2="424.04" stroke="#000" stroke-width="1.2" />
<text x="22.50" y="424.04" font-size="9.0" font-weight="normal" text-anchor="middle" fill="#000" transform="rotate(-90 22.50 424.04)" >5.0</text>
<line x1="25.80" y1="412.45" x2="30.00" y2="412.45" stroke="#000" stroke-width="1.2" />
<line x1="25.80" y1="385.54" x2="30.00" y2="385.54" stroke="#000" stroke-width="1.2" />
<text x="22.50" y="387.54" font-size="9.0" font-weight="normal" text-anchor="middle" fill="#000" transform="rotate(-90 22.50 387.54)" >50.0</text>
<line x1="25.80" y1="373.95" x2="30.00" y2="373.95" stroke="#000" stroke-width="1.2" />
<line x1="209.10" y1="476.70" x2="209.10" y2="465.70" stroke="#000" stroke-width="1.1" stroke-dasharray="3.2 2.9"/>
<path d="M207.70 463.50h2.8l-1.4 2.4z" fill="#000"/>
<rect x="207.35" y="476.70" width="3.50" height="11.20" fill="#fff" stroke="#000" stroke-width="1"/>
<line x1="207.35" y1="485.90" x2="210.85" y2="485.90" stroke="#000" stroke-width="2.0" />
<rect x="211.59" y="484.30" width="3.50" height="4.10" fill="#fff" stroke="#000" stroke-width="1"/>
<line x1="211.59" y1="486.40" x2="215.09" y2="486.40" stroke="#000" stroke-width="2.0" />
<rect x="215.83" y="484.30" width="3.50" height="4.10" fill="#fff" stroke="#000" stroke-width="1"/>
<line x1="215.83" y1="486.40" x2="219.33" y2="486.40" stroke="#000" stroke-width="2.0" />
<line x1="221.82" y1="484.30" x2="221.82" y2="483.00" stroke="#000" stroke-width="1.1" stroke-dasharray="3.2 2.9"/>
<path d="M220.42 480.80h2.8l-1.4 2.4z" fill="#000"/>
<rect x="220.07" y="484.30" width="3.50" height="4.10" fill="#fff" stroke="#000" stroke-width="1"/>
<line x1="220.07" y1="486.40" x2="223.57" y2="486.40" stroke="#000" stroke-width="2.0" />
<rect x="224.31" y="484.30" width="3.50" height="4.10" fill="#fff" stroke="#000" stroke-width="1"/>
<line x1="224.31" y1="486.40" x2="227.81" y2="486.40" stroke="#000" stroke-width="2.0" />
<rect x="228.55" y="484.30" width="3.50" height="4.10" fill="#fff" stroke="#000" stroke-width="1"/>
<line x1="228.55" y1="486.40" x2="232.05" y2="486.40" stroke="#000" stroke-width="2.0" />
<rect x="232.79" y="484.30" width="3.50" height="4.10" fill="#fff" stroke="#000" stroke-width="1"/>
<line x1="232.79" y1="486.40" x2="236.29" y2="486.40" stroke="#000" stroke-width="2.0" />
<rect x="237.03" y="484.30" width="3.50" height="4.10" fill="#fff" stroke="#000" stroke-width="1"/>
<line x1="237.03" y1="486.40" x2="240.53" y2="486.40" stroke="#000" stroke-width="2.0" />
<rect x="241.27" y="484.30" width="3.50" height="4.10" fill="#fff" stroke="#000" stroke-width="1"/>
<line x1="241.27" y1="486.40" x2="244.77" y2="486.40" stroke="#000" stroke-width="2.0" />
<rect x="245.51" y="487.60" width="3.50" height="1.40" fill="#fff" stroke="#000" stroke-width="1"/>
<line x1="245.51" y1="488.30" x2="249.01" y2="488.30" stroke="#000" stroke-width="2.0" />
<rect x="249.75" y="487.60" width="3.50" height="1.40" fill="#fff" stroke="#000" stroke-width="1"/>
<line x1="249.75" y1="488.30" x2="253.25" y2="488.30" stroke="#000" stroke-width="2.0" />
<rect x="253.99" y="487.60" width="3.50" height="1.40" fill="#fff" stroke="#000" stroke-width="1"/>
<line x1="253.99" y1="488.30" x2="257.49" y2="488.30" stroke="#000" stroke-width="2.0" />
<rect x="258.23" y="487.60" width="3.50" height="1.40" fill="#fff" stroke="#000" stroke-width="1"/>
<line x1="258.23" y1="488.30" x2="261.73" y2="488.30" stroke="#000" stroke-width="2.0" />
<rect x="262.47" y="487.60" width="3.50" height="1.40" fill="#fff" stroke="#000" stroke-width="1"/>
<line x1="262.47" y1="488.30" x2="265.97" y2="488.30" stroke="#000" stroke-width="2.0" />
<rect x="266.71" y="487.60" width="3.50" height="1.40" fill="#fff" stroke="#000" stroke-width="1"/>
<line x1="266.71" y1="488.30" x2="270.21" y2="488.30" stroke="#000" stroke-width="2.0" />
<rect x="270.95" y="487.60" width="3.50" height="1.40" fill="#fff" stroke="#000" stroke-width="1"/>
<line x1="270.95" y1="488.30" x2="274.45" y2="488.30" stroke="#000" stroke-width="2.0" />
<rect x="275.19" y="487.60" width="3.50" height="1.40" fill="#fff" stroke="#000" stroke-width="1"/>
<line x1="275.19" y1="488.30" x2="278.69" y2="488.30" stroke="#000" stroke-width="2.0" />
<rect x="279.43" y="487.60" width="3.50" height="1.40" fill="#fff" stroke="#000" stroke-width="1"/>
<line x1="279.43" y1="488.30" x2="282.93" y2="488.30" stroke="#000" stroke-width="2.0" />
<rect x="283.67" y="487.60" width="3.50" height="1.40" fill="#fff" stroke="#000" stroke-width="1"/>
<line x1="283.67" y1="488.30" x2="287.17" y2="488.30" stroke="#000" stroke-width="2.0" />
<rect x="287.91" y="487.60" width="3.50" height="1.40" fill="#fff" stroke="#000" stroke-width="1"/>
<line x1="287.91" y1="488.30" x2="291.41" y2="488.30" stroke="#000" stroke-width="2.0" />
<rect x="292.15" y="487.60" width="3.50" height="1.40" fill="#fff" stroke="#000" stroke-width="1"/>
<line x1="292.15" y1="488.30" x2="295.65" y2="488.30" stroke="#000" stroke-width="2.0" />
<rect x="296.39" y="487.60" width="3.50" height="1.40" fill="#fff" stroke="#000" stroke-width="1"/>
<line x1="296.39" y1="488.30" x2="299.89" y2="488.30" stroke="#000" stroke-width="2.0" />
<rect x="300.63" y="486.20" width="3.50" height="1.80" fill="#fff" stroke="#000" stroke-width="1"/>
<line x1="300.63" y1="487.20" x2="304.13" y2="487.20" stroke="#000" stroke-width="2.0" />
<rect x="304.87" y="485.30" width="3.50" height="2.70" fill="#fff" stroke="#000" stroke-width="1"/>
<line x1="304.87" y1="486.80" x2="308.37" y2="486.80" stroke="#000" stroke-width="2.0" />
<rect x="309.11" y="484.40" width="3.50" height="3.60" fill="#fff" stroke="#000" stroke-width="1"/>
<line x1="309.11" y1="486.00" x2="312.61" y2="486.00" stroke="#000" stroke-width="2.0" />
<line x1="315.10" y1="477.20" x2="315.10" y2="477.30" stroke="#000" stroke-width="1.1" stroke-dasharray="3.2 2.9"/>
<path d="M313.70 475.10h2.8l-1.4 2.4z" fill="#000"/>
<rect x="313.35" y="477.20" width="3.50" height="10.80" fill="#fff" stroke="#000" stroke-width="1"/>
<line x1="313.35" y1="484.40" x2="316.85" y2="484.40" stroke="#000" stroke-width="2.0" />
<line x1="319.34" y1="467.30" x2="319.34" y2="444.10" stroke="#000" stroke-width="1.1" stroke-dasharray="3.2 2.9"/>
<path d="M317.94 441.90h2.8l-1.4 2.4z" fill="#000"/>
<rect x="317.59" y="467.30" width="3.50" height="19.80" fill="#fff" stroke="#000" stroke-width="1"/>
<line x1="317.59" y1="479.00" x2="321.09" y2="479.00" stroke="#000" stroke-width="2.0" />
<line x1="323.58" y1="466.40" x2="323.58" y2="462.00" stroke="#000" stroke-width="1.1" stroke-dasharray="3.2 2.9"/>
<path d="M322.18 459.80h2.8l-1.4 2.4z" fill="#000"/>
<rect x="321.83" y="466.40" width="3.50" height="21.60" fill="#fff" stroke="#000" stroke-width="1"/>
<line x1="321.83" y1="480.80" x2="325.33" y2="480.80" stroke="#000" stroke-width="2.0" />
<line x1="327.82" y1="461.90" x2="327.82" y2="430.60" stroke="#000" stroke-width="1.1" stroke-dasharray="3.2 2.9"/>
<path d="M326.42 428.40h2.8l-1.4 2.4z" fill="#000"/>
<rect x="326.07" y="461.90" width="3.50" height="25.20" fill="#fff" stroke="#000" stroke-width="1"/>
<line x1="326.07" y1="471.80" x2="329.57" y2="471.80" stroke="#000" stroke-width="2.0" />
<line x1="332.06" y1="462.80" x2="332.06" y2="455.80" stroke="#000" stroke-width="1.1" stroke-dasharray="3.2 2.9"/>
<path d="M330.66 453.60h2.8l-1.4 2.4z" fill="#000"/>
<rect x="330.31" y="462.80" width="3.50" height="21.60" fill="#fff" stroke="#000" stroke-width="1"/>
<line x1="330.31" y1="465.50" x2="333.81" y2="465.50" stroke="#000" stroke-width="2.0" />
<line x1="336.30" y1="435.90" x2="336.30" y2="423.40" stroke="#000" stroke-width="1.1" stroke-dasharray="3.2 2.9"/>
<path d="M334.90 421.20h2.8l-1.4 2.4z" fill="#000"/>
<rect x="334.55" y="435.90" width="3.50" height="43.10" fill="#fff" stroke="#000" stroke-width="1"/>
<line x1="334.55" y1="455.70" x2="338.05" y2="455.70" stroke="#000" stroke-width="2.0" />
<line x1="340.54" y1="459.20" x2="340.54" y2="454.00" stroke="#000" stroke-width="1.1" stroke-dasharray="3.2 2.9"/>
<path d="M339.14 451.80h2.8l-1.4 2.4z" fill="#000"/>
<rect x="338.79" y="459.20" width="3.50" height="20.70" fill="#fff" stroke="#000" stroke-width="1"/>
<line x1="338.79" y1="471.00" x2="342.29" y2="471.00" stroke="#000" stroke-width="2.0" />
<line x1="201.60" y1="483.22" x2="347.50" y2="483.22" stroke="#c8c8c8" stroke-width="1.5" />
<line x1="226.06" y1="357.10" x2="226.06" y2="494.25" stroke="#c8c8c8" stroke-width="1.5" />
<line x1="201.60" y1="457.70" x2="347.50" y2="457.70" stroke="#000" stroke-width="1.3" stroke-dasharray="3.4 2.68" stroke-dashoffset="1.0"/>
<line x1="201.60" y1="476.84" x2="347.50" y2="476.84" stroke="#000" stroke-width="1.3" stroke-dasharray="3.4 2.68" stroke-dashoffset="1.0"/>
<rect x="201.60" y="357.10" width="145.90" height="137.15" fill="none" stroke="#000" stroke-width="1.4"/>
<text x="216.95" y="370.20" font-size="14.6" font-weight="bold" text-anchor="middle" fill="#000" >H</text>
<line x1="209.10" y1="494.25" x2="209.10" y2="498.55" stroke="#000" stroke-width="1.2" />
<text x="209.10" y="506.85" font-size="9.0" font-weight="normal" text-anchor="middle" fill="#000" >≤-4</text>
<line x1="213.34" y1="494.25" x2="213.34" y2="496.55" stroke="#000" stroke-width="1.2" />
<line x1="217.58" y1="494.25" x2="217.58" y2="496.55" stroke="#000" stroke-width="1.2" />
<line x1="221.82" y1="494.25" x2="221.82" y2="496.55" stroke="#000" stroke-width="1.2" />
<line x1="226.06" y1="494.25" x2="226.06" y2="498.55" stroke="#000" stroke-width="1.2" />
<text x="226.06" y="506.85" font-size="9.0" font-weight="normal" text-anchor="middle" fill="#000" >1</text>
<line x1="230.30" y1="494.25" x2="230.30" y2="496.55" stroke="#000" stroke-width="1.2" />
<line x1="234.54" y1="494.25" x2="234.54" y2="496.55" stroke="#000" stroke-width="1.2" />
<line x1="238.78" y1="494.25" x2="238.78" y2="496.55" stroke="#000" stroke-width="1.2" />
<line x1="243.02" y1="494.25" x2="243.02" y2="498.55" stroke="#000" stroke-width="1.2" />
<text x="243.02" y="506.85" font-size="9.0" font-weight="normal" text-anchor="middle" fill="#000" >5</text>
<line x1="247.26" y1="494.25" x2="247.26" y2="496.55" stroke="#000" stroke-width="1.2" />
<line x1="251.50" y1="494.25" x2="251.50" y2="496.55" stroke="#000" stroke-width="1.2" />
<line x1="255.74" y1="494.25" x2="255.74" y2="496.55" stroke="#000" stroke-width="1.2" />
<line x1="259.98" y1="494.25" x2="259.98" y2="496.55" stroke="#000" stroke-width="1.2" />
<line x1="264.22" y1="494.25" x2="264.22" y2="498.55" stroke="#000" stroke-width="1.2" />
<text x="264.22" y="506.85" font-size="9.0" font-weight="normal" text-anchor="middle" fill="#000" >10</text>
<line x1="268.46" y1="494.25" x2="268.46" y2="496.55" stroke="#000" stroke-width="1.2" />
<line x1="272.70" y1="494.25" x2="272.70" y2="496.55" stroke="#000" stroke-width="1.2" />
<line x1="276.94" y1="494.25" x2="276.94" y2="496.55" stroke="#000" stroke-width="1.2" />
<line x1="281.18" y1="494.25" x2="281.18" y2="496.55" stroke="#000" stroke-width="1.2" />
<line x1="285.42" y1="494.25" x2="285.42" y2="498.55" stroke="#000" stroke-width="1.2" />
<text x="285.42" y="506.85" font-size="9.0" font-weight="normal" text-anchor="middle" fill="#000" >15</text>
<line x1="289.66" y1="494.25" x2="289.66" y2="496.55" stroke="#000" stroke-width="1.2" />
<line x1="293.90" y1="494.25" x2="293.90" y2="496.55" stroke="#000" stroke-width="1.2" />
<line x1="298.14" y1="494.25" x2="298.14" y2="496.55" stroke="#000" stroke-width="1.2" />
<line x1="302.38" y1="494.25" x2="302.38" y2="496.55" stroke="#000" stroke-width="1.2" />
<line x1="306.62" y1="494.25" x2="306.62" y2="498.55" stroke="#000" stroke-width="1.2" />
<text x="306.62" y="506.85" font-size="9.0" font-weight="normal" text-anchor="middle" fill="#000" >20</text>
<line x1="310.86" y1="494.25" x2="310.86" y2="496.55" stroke="#000" stroke-width="1.2" />
<line x1="315.10" y1="494.25" x2="315.10" y2="496.55" stroke="#000" stroke-width="1.2" />
<line x1="319.34" y1="494.25" x2="319.34" y2="498.55" stroke="#000" stroke-width="1.2" />
<text x="319.34" y="506.85" font-size="9.0" font-weight="normal" text-anchor="middle" fill="#000" >24</text>
<line x1="323.58" y1="494.25" x2="323.58" y2="496.55" stroke="#000" stroke-width="1.2" />
<line x1="327.82" y1="494.25" x2="327.82" y2="496.55" stroke="#000" stroke-width="1.2" />
<line x1="332.06" y1="494.25" x2="332.06" y2="498.55" stroke="#000" stroke-width="1.2" />
<text x="332.06" y="506.85" font-size="9.0" font-weight="normal" text-anchor="middle" fill="#000" >30</text>
<line x1="336.30" y1="494.25" x2="336.30" y2="496.55" stroke="#000" stroke-width="1.2" />
<line x1="340.54" y1="494.25" x2="340.54" y2="498.55" stroke="#000" stroke-width="1.2" />
<text x="340.54" y="506.85" font-size="9.0" font-weight="normal" text-anchor="middle" fill="#000" >40</text>
<line x1="197.40" y1="489.60" x2="201.60" y2="489.60" stroke="#000" stroke-width="1.2" />
<text x="194.10" y="489.60" font-size="9.0" font-weight="normal" text-anchor="middle" fill="#000" transform="rotate(-90 194.10 489.60)" >0</text>
<line x1="197.40" y1="457.70" x2="201.60" y2="457.70" stroke="#000" stroke-width="1.2" />
<text x="194.10" y="457.70" font-size="9.0" font-weight="normal" text-anchor="middle" fill="#000" transform="rotate(-90 194.10 457.70)" >5</text>
<line x1="197.40" y1="425.80" x2="201.60" y2="425.80" stroke="#000" stroke-width="1.2" />
<text x="194.10" y="425.80" font-size="9.0" font-weight="normal" text-anchor="middle" fill="#000" transform="rotate(-90 194.10 425.80)" >10</text>
<line x1="197.40" y1="393.90" x2="201.60" y2="393.90" stroke="#000" stroke-width="1.2" />
<text x="194.10" y="393.90" font-size="9.0" font-weight="normal" text-anchor="middle" fill="#000" transform="rotate(-90 194.10 393.90)" >15</text>
<line x1="197.40" y1="362.00" x2="201.60" y2="362.00" stroke="#000" stroke-width="1.2" />
<text x="194.10" y="362.00" font-size="9.0" font-weight="normal" text-anchor="middle" fill="#000" transform="rotate(-90 194.10 362.00)" >20</text>
<line x1="381.00" y1="475.90" x2="381.00" y2="462.00" stroke="#000" stroke-width="1.1" stroke-dasharray="3.2 2.9"/>
<path d="M379.60 459.80h2.8l-1.4 2.4z" fill="#000"/>
<rect x="379.25" y="475.90" width="3.50" height="11.60" fill="#fff" stroke="#000" stroke-width="1"/>
<line x1="379.25" y1="483.40" x2="382.75" y2="483.40" stroke="#000" stroke-width="2.0" />
<line x1="385.24" y1="475.90" x2="385.24" y2="472.90" stroke="#000" stroke-width="1.1" stroke-dasharray="3.2 2.9"/>
<path d="M383.84 470.70h2.8l-1.4 2.4z" fill="#000"/>
<rect x="383.49" y="475.90" width="3.50" height="11.60" fill="#fff" stroke="#000" stroke-width="1"/>
<line x1="383.49" y1="486.30" x2="386.99" y2="486.30" stroke="#000" stroke-width="2.0" />
<rect x="387.73" y="475.90" width="3.50" height="11.60" fill="#fff" stroke="#000" stroke-width="1"/>
<line x1="387.73" y1="485.80" x2="391.23" y2="485.80" stroke="#000" stroke-width="2.0" />
<rect x="391.97" y="476.50" width="3.50" height="11.50" fill="#fff" stroke="#000" stroke-width="1"/>
<line x1="391.97" y1="486.30" x2="395.47" y2="486.30" stroke="#000" stroke-width="2.0" />
<rect x="396.21" y="477.00" width="3.50" height="11.00" fill="#fff" stroke="#000" stroke-width="1"/>
<line x1="396.21" y1="486.00" x2="399.71" y2="486.00" stroke="#000" stroke-width="2.0" />
<line x1="402.20" y1="479.40" x2="402.20" y2="477.50" stroke="#000" stroke-width="1.1" stroke-dasharray="3.2 2.9"/>
<path d="M400.80 475.30h2.8l-1.4 2.4z" fill="#000"/>
<rect x="400.45" y="479.40" width="3.50" height="6.40" fill="#fff" stroke="#000" stroke-width="1"/>
<line x1="400.45" y1="483.40" x2="403.95" y2="483.40" stroke="#000" stroke-width="2.0" />
<line x1="406.44" y1="480.60" x2="406.44" y2="478.10" stroke="#000" stroke-width="1.1" stroke-dasharray="3.2 2.9"/>
<path d="M405.04 475.90h2.8l-1.4 2.4z" fill="#000"/>
<rect x="404.69" y="480.60" width="3.50" height="5.70" fill="#fff" stroke="#000" stroke-width="1"/>
<line x1="404.69" y1="484.60" x2="408.19" y2="484.60" stroke="#000" stroke-width="2.0" />
<line x1="410.68" y1="481.10" x2="410.68" y2="479.80" stroke="#000" stroke-width="1.1" stroke-dasharray="3.2 2.9"/>
<path d="M409.28 477.60h2.8l-1.4 2.4z" fill="#000"/>
<rect x="408.93" y="481.10" width="3.50" height="5.80" fill="#fff" stroke="#000" stroke-width="1"/>
<line x1="408.93" y1="485.80" x2="412.43" y2="485.80" stroke="#000" stroke-width="2.0" />
<rect x="413.17" y="484.60" width="3.50" height="3.40" fill="#fff" stroke="#000" stroke-width="1"/>
<line x1="413.17" y1="486.30" x2="416.67" y2="486.30" stroke="#000" stroke-width="2.0" />
<rect x="417.41" y="484.60" width="3.50" height="2.40" fill="#fff" stroke="#000" stroke-width="1"/>
<line x1="417.41" y1="486.30" x2="420.91" y2="486.30" stroke="#000" stroke-width="2.0" />
<line x1="423.40" y1="482.90" x2="423.40" y2="478.10" stroke="#000" stroke-width="1.1" stroke-dasharray="3.2 2.9"/>
<path d="M422.00 475.90h2.8l-1.4 2.4z" fill="#000"/>
<rect x="421.65" y="482.90" width="3.50" height="4.00" fill="#fff" stroke="#000" stroke-width="1"/>
<line x1="421.65" y1="485.80" x2="425.15" y2="485.80" stroke="#000" stroke-width="2.0" />
<line x1="427.64" y1="482.90" x2="427.64" y2="480.40" stroke="#000" stroke-width="1.1" stroke-dasharray="3.2 2.9"/>
<path d="M426.24 478.20h2.8l-1.4 2.4z" fill="#000"/>
<rect x="425.89" y="482.90" width="3.50" height="4.00" fill="#fff" stroke="#000" stroke-width="1"/>
<line x1="425.89" y1="485.80" x2="429.39" y2="485.80" stroke="#000" stroke-width="2.0" />
<line x1="431.88" y1="484.00" x2="431.88" y2="482.70" stroke="#000" stroke-width="1.1" stroke-dasharray="3.2 2.9"/>
<path d="M430.48 480.50h2.8l-1.4 2.4z" fill="#000"/>
<rect x="430.13" y="484.00" width="3.50" height="2.90" fill="#fff" stroke="#000" stroke-width="1"/>
<line x1="430.13" y1="486.00" x2="433.63" y2="486.00" stroke="#000" stroke-width="2.0" />
<rect x="434.37" y="484.50" width="3.50" height="3.50" fill="#fff" stroke="#000" stroke-width="1"/>
<line x1="434.37" y1="486.30" x2="437.87" y2="486.30" stroke="#000" stroke-width="2.0" />
<rect x="438.61" y="484.50" width="3.50" height="3.50" fill="#fff" stroke="#000" stroke-width="1"/>
<line x1="438.61" y1="486.30" x2="442.11" y2="486.30" stroke="#000" stroke-width="2.0" />
<rect x="442.85" y="484.50" width="3.50" height="3.50" fill="#fff" stroke="#000" stroke-width="1"/>
<line x1="442.85" y1="486.30" x2="446.35" y2="486.30" stroke="#000" stroke-width="2.0" />
<rect x="447.09" y="484.50" width="3.50" height="3.50" fill="#fff" stroke="#000" stroke-width="1"/>
<line x1="447.09" y1="486.30" x2="450.59" y2="486.30" stroke="#000" stroke-width="2.0" />
<rect x="451.33" y="484.50" width="3.50" height="3.50" fill="#fff" stroke="#000" stroke-width="1"/>
<line x1="451.33" y1="486.30" x2="454.83" y2="486.30" stroke="#000" stroke-width="2.0" />
<rect x="455.57" y="484.50" width="3.50" height="3.50" fill="#fff" stroke="#000" stroke-width="1"/>
<line x1="455.57" y1="486.30" x2="459.07" y2="486.30" stroke="#000" stroke-width="2.0" />
<rect x="459.81" y="484.50" width="3.50" height="3.50" fill="#fff" stroke="#000" stroke-width="1"/>
<line x1="459.81" y1="486.30" x2="463.31" y2="486.30" stroke="#000" stroke-width="2.0" />
<rect x="464.05" y="484.50" width="3.50" height="3.50" fill="#fff" stroke="#000" stroke-width="1"/>
<line x1="464.05" y1="486.30" x2="467.55" y2="486.30" stroke="#000" stroke-width="2.0" />
<rect x="468.29" y="484.50" width="3.50" height="3.50" fill="#fff" stroke="#000" stroke-width="1"/>
<line x1="468.29" y1="486.30" x2="471.79" y2="486.30" stroke="#000" stroke-width="2.0" />
<line x1="474.28" y1="483.40" x2="474.28" y2="480.60" stroke="#000" stroke-width="1.1" stroke-dasharray="3.2 2.9"/>
<path d="M472.88 478.40h2.8l-1.4 2.4z" fill="#000"/>
<rect x="472.53" y="483.40" width="3.50" height="3.50" fill="#fff" stroke="#000" stroke-width="1"/>
<line x1="472.53" y1="485.50" x2="476.03" y2="485.50" stroke="#000" stroke-width="2.0" />
<rect x="476.77" y="482.30" width="3.50" height="3.50" fill="#fff" stroke="#000" stroke-width="1"/>
<line x1="476.77" y1="484.50" x2="480.27" y2="484.50" stroke="#000" stroke-width="2.0" />
<rect x="481.01" y="474.80" width="3.50" height="7.50" fill="#fff" stroke="#000" stroke-width="1"/>
<line x1="481.01" y1="481.10" x2="484.51" y2="481.10" stroke="#000" stroke-width="2.0" />
<line x1="487.00" y1="464.40" x2="487.00" y2="444.70" stroke="#000" stroke-width="1.1" stroke-dasharray="3.2 2.9"/>
<path d="M485.60 442.50h2.8l-1.4 2.4z" fill="#000"/>
<rect x="485.25" y="464.40" width="3.50" height="16.20" fill="#fff" stroke="#000" stroke-width="1"/>
<line x1="485.25" y1="473.00" x2="488.75" y2="473.00" stroke="#000" stroke-width="2.0" />
<line x1="491.24" y1="428.70" x2="491.24" y2="401.10" stroke="#000" stroke-width="1.1" stroke-dasharray="3.2 2.9"/>
<path d="M489.84 398.90h2.8l-1.4 2.4z" fill="#000"/>
<rect x="489.49" y="428.70" width="3.50" height="44.50" fill="#fff" stroke="#000" stroke-width="1"/>
<line x1="489.49" y1="472.20" x2="492.99" y2="472.20" stroke="#000" stroke-width="2.0" />
<line x1="495.48" y1="407.50" x2="495.48" y2="395.80" stroke="#000" stroke-width="1.1" stroke-dasharray="3.2 2.9"/>
<path d="M494.08 393.60h2.8l-1.4 2.4z" fill="#000"/>
<rect x="493.73" y="407.50" width="3.50" height="65.70" fill="#fff" stroke="#000" stroke-width="1"/>
<line x1="493.73" y1="458.40" x2="497.23" y2="458.40" stroke="#000" stroke-width="2.0" />
<line x1="499.72" y1="415.00" x2="499.72" y2="384.20" stroke="#000" stroke-width="1.1" stroke-dasharray="3.2 2.9"/>
<path d="M498.32 382.00h2.8l-1.4 2.4z" fill="#000"/>
<line x1="499.72" y1="467.90" x2="499.72" y2="471.00" stroke="#000" stroke-width="1.1" stroke-dasharray="3.2 2.9"/>
<path d="M498.32 473.20h2.8l-1.4 -2.4z" fill="#000"/>
<rect x="497.97" y="415.00" width="3.50" height="52.90" fill="#fff" stroke="#000" stroke-width="1"/>
<line x1="497.97" y1="447.80" x2="501.47" y2="447.80" stroke="#000" stroke-width="2.0" />
<line x1="503.96" y1="453.10" x2="503.96" y2="450.80" stroke="#000" stroke-width="1.1" stroke-dasharray="3.2 2.9"/>
<path d="M502.56 448.60h2.8l-1.4 2.4z" fill="#000"/>
<line x1="503.96" y1="465.00" x2="503.96" y2="468.50" stroke="#000" stroke-width="1.1" stroke-dasharray="3.2 2.9"/>
<path d="M502.56 470.70h2.8l-1.4 -2.4z" fill="#000"/>
<rect x="502.21" y="453.10" width="3.50" height="11.90" fill="#fff" stroke="#000" stroke-width="1"/>
<line x1="502.21" y1="463.30" x2="505.71" y2="463.30" stroke="#000" stroke-width="2.0" />
<line x1="508.20" y1="437.20" x2="508.20" y2="432.00" stroke="#000" stroke-width="1.1" stroke-dasharray="3.2 2.9"/>
<path d="M506.80 429.80h2.8l-1.4 2.4z" fill="#000"/>
<line x1="508.20" y1="460.30" x2="508.20" y2="463.00" stroke="#000" stroke-width="1.1" stroke-dasharray="3.2 2.9"/>
<path d="M506.80 465.20h2.8l-1.4 -2.4z" fill="#000"/>
<rect x="506.45" y="437.20" width="3.50" height="23.10" fill="#fff" stroke="#000" stroke-width="1"/>
<line x1="506.45" y1="443.70" x2="509.95" y2="443.70" stroke="#000" stroke-width="2.0" />
<line x1="512.44" y1="448.90" x2="512.44" y2="445.00" stroke="#000" stroke-width="1.1" stroke-dasharray="3.2 2.9"/>
<path d="M511.04 442.80h2.8l-1.4 2.4z" fill="#000"/>
<line x1="512.44" y1="461.60" x2="512.44" y2="464.00" stroke="#000" stroke-width="1.1" stroke-dasharray="3.2 2.9"/>
<path d="M511.04 466.20h2.8l-1.4 -2.4z" fill="#000"/>
<rect x="510.69" y="448.90" width="3.50" height="12.70" fill="#fff" stroke="#000" stroke-width="1"/>
<line x1="510.69" y1="455.20" x2="514.19" y2="455.20" stroke="#000" stroke-width="2.0" />
<line x1="373.50" y1="475.30" x2="519.00" y2="475.30" stroke="#c8c8c8" stroke-width="1.5" />
<line x1="397.96" y1="357.10" x2="397.96" y2="494.25" stroke="#c8c8c8" stroke-width="1.5" />
<line x1="373.50" y1="425.95" x2="519.00" y2="425.95" stroke="#000" stroke-width="1.3" stroke-dasharray="3.4 2.68" stroke-dashoffset="1.0"/>
<line x1="373.50" y1="468.25" x2="519.00" y2="468.25" stroke="#000" stroke-width="1.3" stroke-dasharray="3.4 2.68" stroke-dashoffset="1.0"/>
<rect x="373.50" y="357.10" width="145.50" height="137.15" fill="none" stroke="#000" stroke-width="1.4"/>
<text x="388.85" y="370.20" font-size="14.6" font-weight="bold" text-anchor="middle" fill="#000" >I</text>
<line x1="381.00" y1="494.25" x2="381.00" y2="498.55" stroke="#000" stroke-width="1.2" />
<text x="381.00" y="506.85" font-size="9.0" font-weight="normal" text-anchor="middle" fill="#000" >≤-4</text>
<line x1="385.24" y1="494.25" x2="385.24" y2="496.55" stroke="#000" stroke-width="1.2" />
<line x1="389.48" y1="494.25" x2="389.48" y2="496.55" stroke="#000" stroke-width="1.2" />
<line x1="393.72" y1="494.25" x2="393.72" y2="496.55" stroke="#000" stroke-width="1.2" />
<line x1="397.96" y1="494.25" x2="397.96" y2="498.55" stroke="#000" stroke-width="1.2" />
<text x="397.96" y="506.85" font-size="9.0" font-weight="normal" text-anchor="middle" fill="#000" >1</text>
<line x1="402.20" y1="494.25" x2="402.20" y2="496.55" stroke="#000" stroke-width="1.2" />
<line x1="406.44" y1="494.25" x2="406.44" y2="496.55" stroke="#000" stroke-width="1.2" />
<line x1="410.68" y1="494.25" x2="410.68" y2="496.55" stroke="#000" stroke-width="1.2" />
<line x1="414.92" y1="494.25" x2="414.92" y2="498.55" stroke="#000" stroke-width="1.2" />
<text x="414.92" y="506.85" font-size="9.0" font-weight="normal" text-anchor="middle" fill="#000" >5</text>
<line x1="419.16" y1="494.25" x2="419.16" y2="496.55" stroke="#000" stroke-width="1.2" />
<line x1="423.40" y1="494.25" x2="423.40" y2="496.55" stroke="#000" stroke-width="1.2" />
<line x1="427.64" y1="494.25" x2="427.64" y2="496.55" stroke="#000" stroke-width="1.2" />
<line x1="431.88" y1="494.25" x2="431.88" y2="496.55" stroke="#000" stroke-width="1.2" />
<line x1="436.12" y1="494.25" x2="436.12" y2="498.55" stroke="#000" stroke-width="1.2" />
<text x="436.12" y="506.85" font-size="9.0" font-weight="normal" text-anchor="middle" fill="#000" >10</text>
<line x1="440.36" y1="494.25" x2="440.36" y2="496.55" stroke="#000" stroke-width="1.2" />
<line x1="444.60" y1="494.25" x2="444.60" y2="496.55" stroke="#000" stroke-width="1.2" />
<line x1="448.84" y1="494.25" x2="448.84" y2="496.55" stroke="#000" stroke-width="1.2" />
<line x1="453.08" y1="494.25" x2="453.08" y2="496.55" stroke="#000" stroke-width="1.2" />
<line x1="457.32" y1="494.25" x2="457.32" y2="498.55" stroke="#000" stroke-width="1.2" />
<text x="457.32" y="506.85" font-size="9.0" font-weight="normal" text-anchor="middle" fill="#000" >15</text>
<line x1="461.56" y1="494.25" x2="461.56" y2="496.55" stroke="#000" stroke-width="1.2" />
<line x1="465.80" y1="494.25" x2="465.80" y2="496.55" stroke="#000" stroke-width="1.2" />
<line x1="470.04" y1="494.25" x2="470.04" y2="496.55" stroke="#000" stroke-width="1.2" />
<line x1="474.28" y1="494.25" x2="474.28" y2="496.55" stroke="#000" stroke-width="1.2" />
<line x1="478.52" y1="494.25" x2="478.52" y2="498.55" stroke="#000" stroke-width="1.2" />
<text x="478.52" y="506.85" font-size="9.0" font-weight="normal" text-anchor="middle" fill="#000" >20</text>
<line x1="482.76" y1="494.25" x2="482.76" y2="496.55" stroke="#000" stroke-width="1.2" />
<line x1="487.00" y1="494.25" x2="487.00" y2="496.55" stroke="#000" stroke-width="1.2" />
<line x1="491.24" y1="494.25" x2="491.24" y2="498.55" stroke="#000" stroke-width="1.2" />
<text x="491.24" y="506.85" font-size="9.0" font-weight="normal" text-anchor="middle" fill="#000" >24</text>
<line x1="495.48" y1="494.25" x2="495.48" y2="496.55" stroke="#000" stroke-width="1.2" />
<line x1="499.72" y1="494.25" x2="499.72" y2="496.55" stroke="#000" stroke-width="1.2" />
<line x1="503.96" y1="494.25" x2="503.96" y2="498.55" stroke="#000" stroke-width="1.2" />
<text x="503.96" y="506.85" font-size="9.0" font-weight="normal" text-anchor="middle" fill="#000" >30</text>
<line x1="508.20" y1="494.25" x2="508.20" y2="496.55" stroke="#000" stroke-width="1.2" />
<line x1="512.44" y1="494.25" x2="512.44" y2="498.55" stroke="#000" stroke-width="1.2" />
<text x="512.44" y="506.85" font-size="9.0" font-weight="normal" text-anchor="middle" fill="#000" >40</text>
<line x1="369.30" y1="489.40" x2="373.50" y2="489.40" stroke="#000" stroke-width="1.2" />
<text x="366.00" y="489.40" font-size="9.0" font-weight="normal" text-anchor="middle" fill="#000" transform="rotate(-90 366.00 489.40)" >0</text>
<line x1="369.30" y1="461.20" x2="373.50" y2="461.20" stroke="#000" stroke-width="1.2" />
<text x="366.00" y="461.20" font-size="9.0" font-weight="normal" text-anchor="middle" fill="#000" transform="rotate(-90 366.00 461.20)" >200</text>
<line x1="369.30" y1="433.00" x2="373.50" y2="433.00" stroke="#000" stroke-width="1.2" />
<text x="366.00" y="433.00" font-size="9.0" font-weight="normal" text-anchor="middle" fill="#000" transform="rotate(-90 366.00 433.00)" >400</text>
<line x1="369.30" y1="404.80" x2="373.50" y2="404.80" stroke="#000" stroke-width="1.2" />
<text x="366.00" y="404.80" font-size="9.0" font-weight="normal" text-anchor="middle" fill="#000" transform="rotate(-90 366.00 404.80)" >600</text>
<line x1="369.30" y1="376.60" x2="373.50" y2="376.60" stroke="#000" stroke-width="1.2" />
<text x="366.00" y="376.60" font-size="9.0" font-weight="normal" text-anchor="middle" fill="#000" transform="rotate(-90 366.00 376.60)" >800</text>
<text x="9.40" y="428.10" font-size="12.7" font-weight="bold" text-anchor="middle" fill="#000" transform="rotate(-90 9.40 428.10)" >Level 3</text>
<text x="272.20" y="525.90" font-size="13.0" font-weight="bold" text-anchor="middle" fill="#000" >Treatment Day</text>
</svg>
</body></html>
